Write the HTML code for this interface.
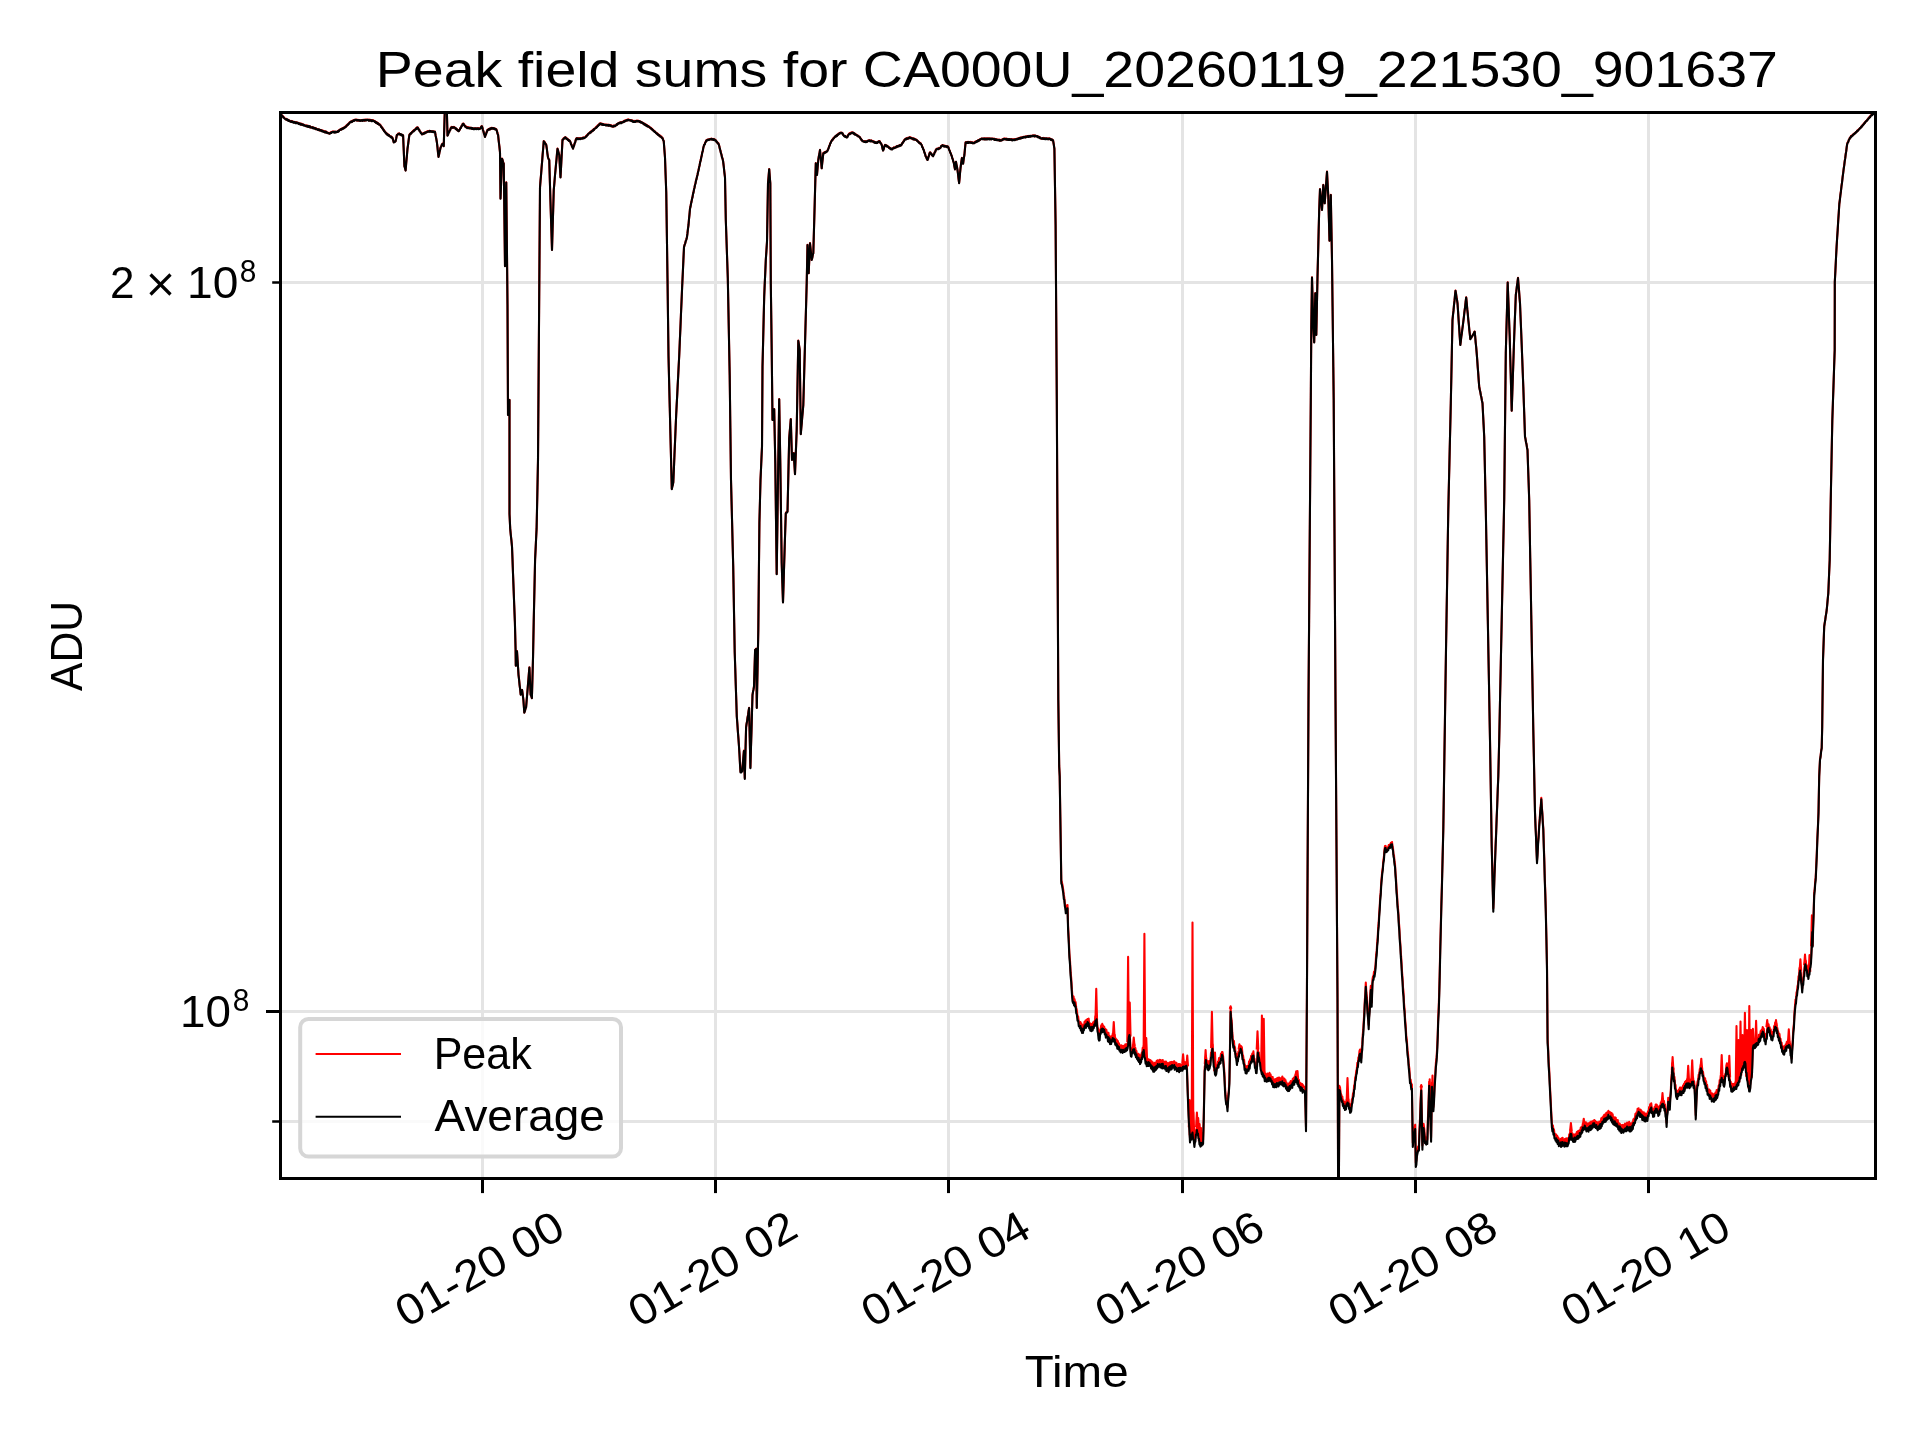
<!DOCTYPE html>
<html><head><meta charset="utf-8">
<style>
html,body{margin:0;padding:0;background:#fff;}
svg{display:block;will-change:transform;}
text{font-family:"Liberation Sans",sans-serif;fill:#000;}
</style></head>
<body>
<svg width="1920" height="1440" viewBox="0 0 1920 1440">
<rect x="0" y="0" width="1920" height="1440" fill="#fff"/>
<g stroke="#e4e4e4" stroke-width="3" fill="none"><line x1="482.5" y1="112.5" x2="482.5" y2="1178.5"/><line x1="715.5" y1="112.5" x2="715.5" y2="1178.5"/><line x1="948.5" y1="112.5" x2="948.5" y2="1178.5"/><line x1="1182.5" y1="112.5" x2="1182.5" y2="1178.5"/><line x1="1415.5" y1="112.5" x2="1415.5" y2="1178.5"/><line x1="1648.5" y1="112.5" x2="1648.5" y2="1178.5"/><line x1="280.5" y1="282.5" x2="1875.5" y2="282.5"/><line x1="280.5" y1="1011.5" x2="1875.5" y2="1011.5"/><line x1="280.5" y1="1121.5" x2="1875.5" y2="1121.5"/></g>
<svg x="280.5" y="112.5" width="1595" height="1066" viewBox="280.5 112.5 1595 1066" overflow="hidden">
<g fill="none" stroke-linejoin="round" stroke-linecap="butt" stroke-width="2.08">
<path stroke="#ff0000" d="M280.6 114.2 L281.15 115.05 L281.7 114.94 L282.25 116.3 L282.8 116.06 L283.35 117.25 L283.9 117.11 L284.45 118.22 L285 118.55 L285.5 119.13 L286 118.68 L286.5 119.73 L287 119.37 L287.5 120.06 L288 119.87 L288.5 120.73 L289 120.16 L289.5 120.96 L290 121.05 L290.5 121.67 L291 120.81 L291.5 121.8 L292 121.18 L292.5 121.87 L293 121.63 L293.5 122.25 L294 121.87 L294.5 122.38 L295 122.05 L295.5 122.57 L296 122.22 L296.5 122.96 L297 122.33 L297.5 122.9 L298 122.73 L298.5 123.61 L299 123.08 L299.5 123.95 L300 123.42 L300.5 124.15 L301 123.57 L301.5 124.73 L302 123.96 L302.5 124.96 L303 124.47 L303.5 125.13 L304 124.82 L304.5 125.41 L305 125.4 L305.52 125.96 L306.04 125.38 L306.56 126.26 L307.08 125.66 L307.6 126.57 L308.12 125.78 L308.65 126.51 L309.17 126.28 L309.69 127.11 L310.21 126.46 L310.73 127.41 L311.25 127.05 L311.77 127.52 L312.29 127.23 L312.81 127.96 L313.33 127.34 L313.85 128.19 L314.38 127.94 L314.9 128.57 L315.42 128 L315.94 129.08 L316.46 128.65 L316.98 129.26 L317.5 129.2 L318 129.55 L318.5 129.36 L319 130.13 L319.5 129.66 L320 130.38 L320.5 129.9 L321 130.59 L321.5 130.13 L322 130.9 L322.5 130.5 L323 131.23 L323.5 130.91 L324 131.6 L324.5 131.3 L325 132.2 L325.5 131.45 L326 132.3 L326.5 131.76 L327 132.61 L327.5 132.55 L328.13 133.17 L328.77 132.77 L329.4 133.55 L329.92 132.87 L330.43 133.12 L330.95 132.13 L331.47 132.54 L331.98 131.77 L332.5 131.7 L333.05 131.32 L333.6 132.05 L334.15 131.58 L334.7 132.05 L335.25 131.74 L335.8 132.32 L336.35 131.77 L336.9 132.05 L337.42 131.31 L337.93 131.58 L338.45 130.62 L338.97 131.04 L339.48 129.86 L340 129.8 L340.5 129.2 L341 129.75 L341.5 128.84 L342 129 L342.5 128.08 L343 128.74 L343.5 127.81 L344 128.02 L344.5 127.14 L345 127.3 L345.5 126.32 L346 126.52 L346.5 125.32 L347 125.76 L347.5 124.44 L348 124.6 L348.5 123.61 L349 123.46 L349.5 122.31 L350 122.3 L350.5 121.82 L351 122.2 L351.5 121.31 L352 121.74 L352.5 120.69 L353 121.05 L353.5 120.34 L354 120.7 L354.5 119.88 L355 119.8 L355.52 119.62 L356.04 120.25 L356.56 119.5 L357.08 120.37 L357.6 119.8 L358.12 120.57 L358.65 119.93 L359.17 120.36 L359.69 120.01 L360.21 120.61 L360.73 120.18 L361.25 120.4 L361.77 120.14 L362.29 120.58 L362.81 119.9 L363.33 120.4 L363.85 119.87 L364.38 120.56 L364.9 119.56 L365.42 120.38 L365.94 119.56 L366.46 120.25 L366.98 119.65 L367.5 119.8 L368.02 119.72 L368.54 120.12 L369.06 119.58 L369.58 120.53 L370.1 119.73 L370.62 120.46 L371.15 120.01 L371.67 120.79 L372.19 120.14 L372.71 120.89 L373.23 120.22 L373.75 120.8 L374.27 120.96 L374.79 121.81 L375.31 121.39 L375.83 122.6 L376.35 122.06 L376.88 123.2 L377.4 122.71 L377.92 123.94 L378.44 123.53 L378.96 124.52 L379.48 124 L380 124.8 L380.52 125.07 L381.04 126.55 L381.56 126.56 L382.08 128.17 L382.6 128.1 L383.12 129.54 L383.65 129.62 L384.17 130.99 L384.69 131 L385.21 132.27 L385.73 132.45 L386.25 133.55 L386.79 133.41 L387.32 134.72 L387.86 134.22 L388.39 135.26 L388.93 134.93 L389.46 136.05 L390 136.05 L390.5 136.72 L391 136.35 L391.5 137.34 L392 137.12 L392.5 137.9 L393.12 139.94 L393.75 142.3 L394.37 141.52 L394.98 141.79 L395.6 141.05 L396.25 138.16 L396.9 134.8 L397.52 134.78 L398.13 133.64 L398.75 133.55 L399.29 133.42 L399.84 134.48 L400.38 134 L400.93 134.63 L401.47 134.45 L402.01 135.32 L402.56 134.95 L403.1 135.4 L403.75 150.52 L404.4 166.05 L405 167.76 L405.6 170.4 L406.23 162.74 L406.87 156.14 L407.5 148.55 L408.13 144.43 L408.77 139.12 L409.4 134.8 L409.92 133.9 L410.43 133.99 L410.95 132.95 L411.47 133.17 L411.98 131.75 L412.5 131.7 L413 130.8 L413.5 131.1 L414 130.03 L414.5 130.2 L415 129.3 L415.5 129.38 L416 128.18 L416.5 128.63 L417 127.34 L417.5 127.3 L418.05 127.68 L418.6 129.27 L419.15 129.68 L419.7 131.06 L420.25 131.37 L420.8 132.7 L421.35 133.04 L421.9 134.2 L422.43 133.59 L422.95 134.04 L423.48 133.21 L424.01 133.67 L424.53 132.49 L425.06 133.05 L425.59 132.33 L426.12 132.42 L426.64 131.56 L427.17 131.94 L427.7 131.14 L428.22 131.64 L428.75 131.05 L429.27 131.36 L429.79 130.73 L430.31 131.37 L430.83 131.07 L431.35 131.63 L431.88 131.22 L432.4 131.87 L432.92 131.25 L433.44 131.74 L433.96 131.43 L434.48 132.02 L435 131.7 L435.63 135.54 L436.27 138.4 L436.9 142.3 L437.43 146.72 L437.97 152.33 L438.5 156.7 L439.02 154.84 L439.55 151.61 L440.08 149.87 L440.6 147.3 L441.23 146.37 L441.87 144.59 L442.5 143.55 L443.12 144.65 L443.75 146.05 L444.25 128.86 L444.75 112.3 L445.29 111.9 L445.82 112.51 L446.36 112.05 L446.9 112.3 L447.5 135.4 L448.04 134.51 L448.57 132.69 L449.11 132.26 L449.64 130.41 L450.18 130.03 L450.71 128.17 L451.25 127.3 L451.77 126.87 L452.3 127.77 L452.82 127.12 L453.35 127.78 L453.88 126.9 L454.4 127.3 L454.94 127.57 L455.49 128.55 L456.03 128.34 L456.57 129.64 L457.12 129.36 L457.66 130.46 L458.21 130.12 L458.75 131.05 L459.29 129.68 L459.84 129.66 L460.38 127.93 L460.93 127.68 L461.47 126.14 L462.01 125.83 L462.56 124.05 L463.1 123.55 L463.62 123.8 L464.15 125.2 L464.68 125.2 L465.2 126.51 L465.73 126.18 L466.25 127.3 L466.75 126.89 L467.25 127.8 L467.75 127.12 L468.25 127.9 L468.75 127.25 L469.25 128.25 L469.75 127.61 L470.25 128.15 L470.75 127.75 L471.25 128.48 L471.75 127.8 L472.25 128.62 L472.75 128.22 L473.25 128.9 L473.75 128.55 L474.27 128.72 L474.79 128.12 L475.31 128.76 L475.83 128.28 L476.35 128.98 L476.88 128.35 L477.4 128.75 L477.92 128.22 L478.44 128.95 L478.96 128.11 L479.48 128.94 L480 128.55 L480.63 128.2 L481.27 126.56 L481.9 126.05 L482.42 127.34 L482.93 129.78 L483.45 131.15 L483.97 133.48 L484.48 134.67 L485 136.7 L485.5 134.91 L486 134.31 L486.5 132.23 L487 131.63 L487.5 129.8 L488 129.96 L488.5 129.16 L489 129.51 L489.5 128.59 L490 129.32 L490.5 128.44 L491 128.92 L491.5 127.79 L492 128.42 L492.5 127.9 L493.04 128.44 L493.57 128.05 L494.11 128.79 L494.64 128.32 L495.18 129.19 L495.71 128.85 L496.25 129.2 L496.87 130.58 L497.48 133.26 L498.1 134.8 L498.73 140.92 L499.37 146.04 L500 152.3 L500.5 198.55 L501 185.56 L501.5 171.56 L502 158.55 L502.58 159.82 L503.17 162.06 L503.75 163.55 L504.38 215.14 L505 266.05 L505.62 224.47 L506.25 182.3 L506.88 244.03 L507.5 304.8 L508 414.8 L508.5 409.33 L509 405.04 L509.5 399.8 L509.5 513.8 L510.2 528.4 L510.8 534.72 L511.4 540.21 L512 546.4 L512.5 559.36 L513 573.37 L513.5 586.2 L514.2 604.72 L514.9 622.3 L515.6 649.3 L515.8 665.6 L516.4 658.67 L517 651.1 L517.5 659.19 L518 666.55 L518.5 674.6 L519.05 679.21 L519.6 685.02 L520.15 689.33 L520.7 694.5 L521.4 691.78 L522.1 689.9 L522.75 694.69 L523.4 699.8 L524.3 712.5 L524.9 710.95 L525.5 708.64 L526.1 707.1 L526.7 699.48 L527.3 692.9 L527.9 685.4 L528.4 679.67 L528.9 673.03 L529.4 667.4 L530 680.76 L530.6 694.5 L531.25 695.89 L531.9 698.1 L532.45 678.06 L533 658.4 L533.7 622.3 L534.4 591.03 L535.1 559.1 L535.6 549.1 L536.1 538.41 L536.6 528.4 L537.3 495.8 L538 459.8 L538.5 391.34 L539 323.85 L539.5 255.14 L540 187.3 L540.54 180.4 L541.07 174.42 L541.61 167.27 L542.14 161.09 L542.68 153.89 L543.21 148.03 L543.75 141.05 L544.25 142.14 L544.75 142.1 L545.25 143.66 L545.75 143.6 L546.25 144.8 L546.83 148.74 L547.42 153.54 L548 157.3 L548.62 158.98 L549.25 159.8 L549.88 181.52 L550.5 202.3 L551 218.39 L551.5 233.71 L552 249.8 L552.58 229.33 L553.17 210.03 L553.75 189.8 L554.33 183.63 L554.92 176.01 L555.5 169.8 L556 164.29 L556.5 159.41 L557 153.46 L557.5 148.55 L558.08 150.39 L558.67 152.9 L559.25 154.8 L559.88 166.49 L560.5 177.3 L561 168.22 L561.5 158.12 L562 149.37 L562.5 139.8 L563 139.59 L563.5 138.41 L564 138.46 L564.5 137.58 L565 137.3 L565.5 137.29 L566 138.52 L566.5 137.94 L567 138.99 L567.5 138.85 L568 139.97 L568.5 139.6 L569 140.69 L569.5 140.46 L570 141.05 L570.5 142.13 L571 143.74 L571.5 144.64 L572 146.39 L572.5 146.97 L573 148.55 L573.54 146.53 L574.08 145.42 L574.62 143.34 L575.17 142.1 L575.71 139.77 L576.25 138.55 L576.75 138.05 L577.25 139.02 L577.75 138.37 L578.25 138.72 L578.75 138.07 L579.25 138.86 L579.75 138.13 L580.25 138.81 L580.75 138.24 L581.25 138.55 L581.79 138.04 L582.32 138.49 L582.86 137.65 L583.39 137.99 L583.93 137.26 L584.46 137.92 L585 137.3 L585.54 136.98 L586.07 135.92 L586.61 136.1 L587.14 134.87 L587.68 134.84 L588.21 133.88 L588.75 133.55 L589.27 132.8 L589.79 132.87 L590.31 131.84 L590.83 132.31 L591.35 131.07 L591.88 131.5 L592.4 130.26 L592.92 130.51 L593.44 129.44 L593.96 129.71 L594.48 128.47 L595 128.55 L595.5 127.62 L596 127.79 L596.5 126.58 L597 126.96 L597.5 125.63 L598 125.99 L598.5 124.76 L599 125.01 L599.5 123.59 L600 123.55 L600.5 123.28 L601 124.22 L601.5 123.51 L602 124.34 L602.5 123.77 L603 124.47 L603.5 124.16 L604 124.86 L604.5 124.52 L605 124.8 L605.5 124.58 L606 125.27 L606.5 124.58 L607 125.23 L607.5 124.57 L608 125.48 L608.5 124.88 L609 125.58 L609.5 124.9 L610 125.3 L610.5 125.16 L611 125.99 L611.5 125.4 L612 126.47 L612.5 126.3 L613.02 126.55 L613.53 125.58 L614.05 126.34 L614.57 125.54 L615.08 125.92 L615.6 125.4 L616.12 125.39 L616.65 124.33 L617.17 124.44 L617.7 123.57 L618.23 123.54 L618.75 122.9 L619.29 123.1 L619.82 122.54 L620.36 122.88 L620.89 122.09 L621.43 122.81 L621.96 122.06 L622.5 122.3 L623.04 121.49 L623.57 122.01 L624.11 120.84 L624.64 121.39 L625.18 120.26 L625.71 120.55 L626.25 120.05 L626.77 120.37 L627.3 119.55 L627.83 120.09 L628.35 119.41 L628.88 120.05 L629.4 119.8 L629.94 120.32 L630.49 119.99 L631.03 120.72 L631.58 120.24 L632.12 120.97 L632.66 120.52 L633.21 121.5 L633.75 121.4 L634.25 121.67 L634.75 120.92 L635.25 121.5 L635.75 120.91 L636.25 121.48 L636.75 120.69 L637.25 121.23 L637.75 120.52 L638.25 121.11 L638.75 120.8 L639.29 121.25 L639.82 121.16 L640.36 121.86 L640.89 121.8 L641.43 122.71 L641.96 122.31 L642.5 122.9 L643 122.73 L643.5 123.9 L644 123.61 L644.5 124.57 L645 123.89 L645.5 124.84 L646 124.49 L646.5 125.55 L647 125.22 L647.5 126.32 L648 125.89 L648.5 126.75 L649 126.24 L649.5 127.41 L650 127.3 L650.52 128.08 L651.04 127.74 L651.56 129.14 L652.08 128.81 L652.6 129.82 L653.12 129.73 L653.65 130.88 L654.17 130.81 L654.69 131.67 L655.21 131.63 L655.73 132.63 L656.25 132.9 L656.77 133.62 L657.29 133.35 L657.81 134.46 L658.33 134.32 L658.85 135.34 L659.38 135.1 L659.9 136.24 L660.42 135.9 L660.94 137.15 L661.46 136.58 L661.98 137.89 L662.5 137.9 L663.12 139.71 L663.75 141.05 L664.38 149.36 L665 157.3 L665.62 175.26 L666.25 192.3 L666.88 235.62 L667.5 278.1 L668 317.32 L668.5 355.8 L669.13 382.01 L669.77 407.42 L670.4 433.6 L671.1 460.91 L671.8 489 L672.3 486.39 L672.8 484.82 L673.3 482.2 L673.88 468.97 L674.46 454.59 L675.04 441.62 L675.62 427.56 L676.2 414.2 L676.7 403.97 L677.2 395.2 L677.7 384.54 L678.2 375.43 L678.7 365.36 L679.2 355.8 L679.78 341.96 L680.36 328.9 L680.94 314.63 L681.52 301.59 L682.1 287.8 L682.73 274.54 L683.37 260.42 L684 247 L684.58 244.88 L685.16 243.51 L685.74 240.84 L686.32 239.61 L686.9 237.3 L687.43 233.41 L687.97 228.65 L688.5 224.8 L689 219.16 L689.5 214.24 L690 208.55 L690.5 206.59 L691 203.36 L691.5 201.6 L692 198.86 L692.5 197.11 L693 193.93 L693.5 192.34 L694 189.33 L694.5 187.47 L695 184.8 L695.5 183.04 L696 180.37 L696.5 179.08 L697 176.42 L697.5 174.8 L698.04 171.8 L698.57 170.06 L699.11 166.96 L699.64 165.21 L700.18 161.83 L700.71 160.1 L701.25 157.3 L701.75 155.33 L702.25 152.62 L702.75 151.01 L703.25 148.12 L703.75 146.05 L704.25 144.74 L704.75 144.14 L705.25 142.34 L705.75 141.92 L706.25 140.4 L706.79 140.45 L707.34 139.58 L707.88 139.98 L708.42 139.38 L708.97 139.78 L709.51 139.02 L710.06 139.26 L710.6 138.8 L711.15 139.3 L711.7 138.59 L712.25 139.33 L712.8 138.97 L713.35 139.54 L713.9 138.96 L714.45 139.73 L715 139.55 L715.54 140.41 L716.07 140.48 L716.61 141.89 L717.14 141.74 L717.68 143.35 L718.21 143.07 L718.75 144.2 L719.29 146 L719.84 148.84 L720.38 150.26 L720.92 152.89 L721.47 154.44 L722.01 157.31 L722.56 158.48 L723.1 161.05 L723.73 166.23 L724.37 172.16 L725 177.3 L725.8 219.8 L726.3 234.1 L726.8 249.23 L727.3 263.24 L727.8 278.1 L728.43 310.21 L729.07 343.12 L729.7 375.3 L730.35 427.9 L731 479.8 L731.55 501.73 L732.1 522.46 L732.65 544.74 L733.2 565.8 L733.7 594.81 L734.2 622.92 L734.7 651.8 L735.23 667.53 L735.75 684.56 L736.27 700 L736.8 716.4 L737.35 723.66 L737.9 731.81 L738.45 738.28 L739 746.28 L739.5 754.1 L740 764.07 L740.5 771.58 L741.07 771.97 L741.63 770 L742.2 770.5 L742.77 763.51 L743.33 757.78 L743.9 750.49 L744.8 777.96 L745.45 751.79 L746.1 727.1 L746.6 723.64 L747.1 720.9 L747.6 716.94 L748.1 714.79 L748.6 710.81 L749.1 707.8 L749.75 737.01 L750.4 767.36 L750.92 748.88 L751.45 731.67 L751.98 712.5 L752.5 694.8 L753 691.73 L753.5 689.36 L754 686.3 L754.55 668.42 L755.1 649.7 L755.65 649.48 L756.2 648.6 L756.8 707.8 L757.3 681.55 L757.8 656.42 L758.3 630.3 L758.85 576.82 L759.4 522.8 L759.95 501.79 L760.5 479.8 L761 469.09 L761.5 457.28 L762 446.5 L762.5 366.5 L763.07 343.5 L763.63 319.43 L764.2 296.5 L764.73 283.87 L765.27 272.5 L765.8 259.8 L766.4 250.94 L767 241.5 L767.5 212.74 L768 183.1 L768.6 176.43 L769.2 169 L769.75 176.5 L770.3 183.1 L770.8 283.1 L771.7 349.8 L772.5 419.8 L773.07 415.77 L773.63 413.04 L774.2 409 L774.75 436.51 L775.3 463.1 L776 519.04 L776.7 574 L777.35 527.27 L778 479.8 L778.6 439.73 L779.2 399 L779.75 431.45 L780.3 463.1 L781 513.53 L781.7 563.1 L782.35 583 L783 602.3 L783.57 584 L784.13 564.9 L784.7 546.5 L785.25 529.39 L785.8 513.1 L786.37 512.07 L786.93 512.31 L787.5 511.5 L788.07 487.24 L788.63 462.35 L789.2 438.1 L789.73 431.43 L790.27 425.62 L790.8 419 L791.4 439.89 L792 459.8 L792.57 457.74 L793.13 455.08 L793.7 453.1 L794.35 463.36 L795 474 L795.57 458.89 L796.13 444.95 L796.7 429.8 L797.23 400.28 L797.77 370.16 L798.3 340.6 L799 344.89 L799.7 349.8 L800.25 391.55 L800.8 434 L801.3 427.69 L801.8 422.48 L802.3 416.29 L802.8 410.85 L803.3 404.8 L803.87 384.74 L804.43 364 L805 344.35 L805.57 323.31 L806.13 303.61 L806.7 283.1 L807.5 244.8 L808.1 258.74 L808.7 273.1 L809.35 257.85 L810 243.1 L810.57 248.46 L811.13 254.65 L811.7 259.8 L812.23 257.83 L812.77 254.99 L813.3 253.1 L814.2 221.5 L814.73 202.47 L815.27 182.25 L815.8 163.1 L816.4 168.71 L817 174.8 L817.65 166.84 L818.3 159.8 L818.87 156 L819.43 153.4 L820 149.8 L820.57 156.24 L821.13 161.52 L821.7 168.1 L822.23 162.78 L822.77 158.33 L823.3 153.1 L823.87 153 L824.43 152.09 L825 152.73 L825.57 151.75 L826.13 152.1 L826.7 151.5 L827.4 150.68 L828.1 149.2 L828.62 148.09 L829.15 145.99 L829.67 145.51 L830.2 143.53 L830.73 142.56 L831.25 141.05 L831.79 140.74 L832.32 139.53 L832.86 139.61 L833.39 138.16 L833.93 138.3 L834.46 137.12 L835 136.7 L835.5 136.12 L836 136.2 L836.5 135.32 L837 135.63 L837.5 134.47 L838 134.79 L838.5 133.54 L839 133.9 L839.5 132.94 L840 132.9 L840.5 132.67 L841 133.27 L841.5 132.67 L842 132.8 L842.58 133.23 L843.17 134.98 L843.75 135.4 L844.27 136.15 L844.8 135.85 L845.33 136.59 L845.85 136.27 L846.38 137.17 L846.9 137.3 L847.52 136.58 L848.13 134.92 L848.75 134.2 L849.29 133.44 L849.82 134.01 L850.36 132.94 L850.89 133.37 L851.43 132.42 L851.96 132.87 L852.5 132.3 L853.04 133.13 L853.57 132.83 L854.11 133.81 L854.64 133.51 L855.18 134.43 L855.71 134.11 L856.25 134.8 L856.77 134.91 L857.3 135.87 L857.83 135.49 L858.35 136.33 L858.88 136.21 L859.4 136.7 L859.92 137.17 L860.43 138.46 L860.95 138.47 L861.47 139.88 L861.98 139.93 L862.5 141.05 L863.04 140.96 L863.57 141.52 L864.11 141.02 L864.64 141.91 L865.18 141.07 L865.71 141.99 L866.25 141.7 L866.75 141.59 L867.25 140.9 L867.75 141.32 L868.25 140.43 L868.75 140.4 L869.29 140.15 L869.82 140.9 L870.36 140.52 L870.89 141.27 L871.43 140.43 L871.96 141.18 L872.5 141.05 L873.04 141.68 L873.57 141.33 L874.11 142.12 L874.64 141.77 L875.18 142.63 L875.71 142.37 L876.25 142.9 L876.77 142.3 L877.3 142.67 L877.83 141.74 L878.35 141.89 L878.88 140.95 L879.4 141.05 L879.92 141.57 L880.45 143.11 L880.98 143.07 L881.5 144.2 L882.03 145.86 L882.57 148.6 L883.1 150.4 L883.73 148.97 L884.37 146.48 L885 144.8 L885.52 144.92 L886.03 145.62 L886.55 145.36 L887.07 146.46 L887.58 146.17 L888.1 146.7 L888.62 146.83 L889.15 147.98 L889.67 147.59 L890.2 148.55 L890.73 148.55 L891.25 149.2 L891.79 148.72 L892.32 148.85 L892.86 148.09 L893.39 148.29 L893.93 147.37 L894.46 147.87 L895 147.3 L895.52 147.42 L896.04 146.51 L896.56 147.09 L897.08 146.03 L897.6 146.54 L898.12 145.78 L898.65 146.14 L899.17 145.48 L899.69 145.72 L900.21 144.82 L900.73 145.5 L901.25 144.8 L901.79 144.43 L902.32 142.82 L902.86 142.76 L903.39 141.44 L903.93 141.07 L904.46 139.73 L905 139.2 L905.5 138.66 L906 139.06 L906.5 138.42 L907 138.87 L907.5 137.95 L908 138.65 L908.5 137.68 L909 138.09 L909.5 137.3 L910 137.55 L910.52 137.27 L911.04 138.27 L911.56 137.84 L912.08 138.63 L912.6 138.29 L913.12 139.07 L913.65 138.37 L914.17 139.38 L914.69 138.84 L915.21 139.87 L915.73 139.39 L916.25 139.8 L916.75 139.76 L917.25 141.05 L917.75 140.9 L918.25 141.74 L918.75 141.76 L919.25 142.79 L919.75 142.49 L920.25 143.59 L920.75 143.28 L921.25 144.2 L921.75 145.04 L922.25 146.75 L922.75 147.37 L923.25 149.17 L923.75 149.8 L924.37 152.08 L924.98 153.5 L925.6 156.05 L926.23 156.96 L926.87 158.9 L927.5 159.8 L928 158.65 L928.5 156.56 L929 155.77 L929.5 153.3 L930 152.3 L930.52 152.49 L931.03 153.91 L931.55 153.98 L932.07 155.24 L932.58 155.17 L933.1 156.05 L933.62 154.44 L934.15 154 L934.67 152.27 L935.2 151.92 L935.73 150.13 L936.25 149.2 L936.79 148.67 L937.32 149.01 L937.86 148.48 L938.39 148.67 L938.93 147.78 L939.46 148.56 L940 147.9 L940.63 147.45 L941.27 145.98 L941.9 145.4 L942.42 145.12 L942.93 146.02 L943.45 145.44 L943.97 146.19 L944.48 145.51 L945 146.21 L945.52 145.94 L946.03 146.58 L946.55 146.17 L947.07 146.77 L947.58 146.24 L948.1 146.7 L948.62 147.84 L949.15 149.73 L949.67 150.51 L950.2 152.45 L950.73 153.18 L951.25 154.8 L951.75 155.93 L952.25 157.96 L952.75 158.92 L953.25 161 L953.75 162.3 L954.38 166.24 L955 169.2 L955.5 165.81 L956 161.7 L956.5 164.71 L957 166.81 L957.5 169.8 L958.03 173.8 L958.57 178.92 L959.1 182.9 L959.6 178.12 L960.1 172.09 L960.6 167.3 L961.25 162.28 L961.9 157.9 L962.5 160.23 L963.1 163.55 L963.75 158.73 L964.4 154.8 L965 148.1 L965.6 142.3 L966.15 142.01 L966.7 142.6 L967.25 141.95 L967.8 142.77 L968.35 141.97 L968.9 142.63 L969.45 142 L970 142.3 L970.54 141.92 L971.07 142.73 L971.61 142.39 L972.14 143.05 L972.68 142.26 L973.21 143.22 L973.75 142.9 L974.25 142.99 L974.75 141.94 L975.25 142.34 L975.75 141.45 L976.25 141.71 L976.75 141.07 L977.25 141.29 L977.75 140.39 L978.25 140.73 L978.75 140 L979.25 140.29 L979.75 139.29 L980.25 139.58 L980.75 138.82 L981.25 138.8 L981.76 138.51 L982.27 139.03 L982.78 138.63 L983.3 139.27 L983.81 138.31 L984.32 139.18 L984.83 138.35 L985.34 139.1 L985.85 138.37 L986.36 139.03 L986.88 138.39 L987.39 139.15 L987.9 138.33 L988.41 138.98 L988.92 138.37 L989.43 138.99 L989.94 138.46 L990.45 139.28 L990.97 138.65 L991.48 139.04 L991.99 138.55 L992.5 138.8 L993.01 138.63 L993.53 139.16 L994.04 138.62 L994.56 139.61 L995.07 138.98 L995.59 139.64 L996.1 139.1 L996.62 139.72 L997.13 139.49 L997.65 140.21 L998.16 139.58 L998.68 140.25 L999.19 139.55 L999.71 140.61 L1000.22 139.9 L1000.74 140.53 L1001.25 140.4 L1001.75 140.33 L1002.25 139.29 L1002.75 139.9 L1003.25 138.9 L1003.75 138.8 L1004.25 138.41 L1004.75 139.17 L1005.25 138.63 L1005.75 139.21 L1006.25 138.59 L1006.75 139.6 L1007.25 138.93 L1007.75 139.57 L1008.25 139.03 L1008.75 139.76 L1009.25 139.18 L1009.75 139.59 L1010.25 139.05 L1010.75 139.76 L1011.25 139.08 L1011.75 140.05 L1012.25 139.25 L1012.75 139.9 L1013.25 139.36 L1013.75 139.8 L1014.25 139.18 L1014.75 139.83 L1015.25 139.21 L1015.75 139.48 L1016.25 138.85 L1016.75 139.37 L1017.25 138.62 L1017.75 138.91 L1018.25 138.33 L1018.75 138.81 L1019.25 137.86 L1019.75 138.43 L1020.25 137.63 L1020.75 138.33 L1021.25 137.38 L1021.75 137.83 L1022.25 137.21 L1022.75 137.8 L1023.25 136.8 L1023.75 137.05 L1024.25 136.72 L1024.75 137.26 L1025.25 136.62 L1025.75 137.21 L1026.25 136.33 L1026.75 136.88 L1027.25 136.13 L1027.75 136.55 L1028.25 135.94 L1028.75 136.47 L1029.25 135.9 L1029.75 136.48 L1030.25 135.79 L1030.75 136.13 L1031.25 135.8 L1031.75 136.21 L1032.25 135.56 L1032.75 136.05 L1033.25 135.46 L1033.75 136.02 L1034.25 135.34 L1034.75 136.3 L1035.25 135.64 L1035.75 136.11 L1036.25 135.8 L1036.75 136.46 L1037.25 136.02 L1037.75 137.03 L1038.25 136.48 L1038.75 137.26 L1039.25 136.96 L1039.75 137.93 L1040.25 137.52 L1040.75 138.43 L1041.25 138.3 L1041.76 138.75 L1042.28 138.03 L1042.79 138.72 L1043.31 137.97 L1043.82 138.84 L1044.34 138.14 L1044.85 138.99 L1045.37 138.32 L1045.88 138.99 L1046.4 138.39 L1046.91 138.99 L1047.43 138.42 L1047.94 138.99 L1048.46 138.29 L1048.97 139.17 L1049.49 138.34 L1050 138.8 L1050.52 138.83 L1051.03 139.65 L1051.55 139.37 L1052.07 140.22 L1052.58 139.81 L1053.1 140.4 L1053.75 144.31 L1054.4 148.55 L1055 186.32 L1055.6 224.8 L1056.2 311.9 L1056.8 399.8 L1057.3 499.45 L1057.8 599.8 L1058.3 699.8 L1059.2 765.89 L1059.7 775.7 L1060.3 814.95 L1060.8 846.27 L1061.3 880.37 L1061.9 882.07 L1062.5 885.29 L1063.3 890.2 L1063.8 894.89 L1064.3 897.48 L1064.8 903.24 L1065.3 904.76 L1065.8 909.86 L1066.37 907.03 L1066.93 907.53 L1067.5 904.95 L1068.1 926.29 L1068.75 937.94 L1069.4 953.34 L1070.02 960.84 L1070.63 972.22 L1071.25 978.3 L1071.88 989.43 L1072.5 997.05 L1073.02 999.64 L1073.53 996.5 L1074.05 1000.76 L1074.57 999.34 L1075.08 1002.56 L1075.6 1002.05 L1076.23 1007.69 L1076.87 1010.26 L1077.5 1016.4 L1078.13 1016.37 L1078.77 1021.9 L1079.4 1022.05 L1079.92 1024.25 L1080.43 1022.08 L1080.95 1025.82 L1081.47 1023.54 L1081.98 1027.85 L1082.5 1027.7 L1083 1028.06 L1083.5 1024.87 L1084 1027.1 L1084.5 1021.89 L1085 1023.3 L1085.52 1020.46 L1086.03 1022.94 L1086.55 1019.9 L1087.07 1022.24 L1087.58 1019 L1088.1 1019.55 L1088.65 1018.72 L1089.2 1023.83 L1089.75 1023.02 L1090.3 1026.4 L1090.88 1023.82 L1091.45 1028.14 L1092.03 1024.11 L1092.6 1026.34 L1093.17 1022.18 L1093.75 1023.9 L1094.32 1021.31 L1094.89 1021.64 L1095.46 1016.28 L1096.03 1017.98 L1096.6 1015.2 L1097.5 1027.05 L1098.03 1028.67 L1098.57 1034.61 L1099.1 1036.4 L1099.64 1035.15 L1100.17 1029.88 L1100.71 1028.84 L1101.25 1025.2 L1101.75 1028.16 L1102.25 1023.77 L1102.75 1028.43 L1103.25 1025.48 L1103.75 1027.05 L1104.28 1026.85 L1104.8 1030.92 L1105.33 1028.96 L1105.85 1032.84 L1106.38 1029.78 L1106.9 1033.3 L1107.43 1032.57 L1107.96 1036.12 L1108.49 1032.88 L1109.01 1038.05 L1109.54 1036.02 L1110.07 1039.1 L1110.6 1038.3 L1111.12 1039.64 L1111.65 1036.16 L1112.17 1037.83 L1112.7 1033.76 L1113.22 1037.53 L1113.75 1034.55 L1114.25 1037.77 L1114.75 1034.9 L1115.25 1040.28 L1115.75 1038.53 L1116.25 1041.4 L1116.79 1039.71 L1117.32 1044.13 L1117.86 1041.08 L1118.39 1045.09 L1118.93 1043.13 L1119.46 1046.29 L1120 1045.8 L1120.54 1047.85 L1121.07 1045.26 L1121.61 1047.76 L1122.14 1045.72 L1122.68 1048.79 L1123.21 1046.09 L1123.75 1047.7 L1124.29 1045.66 L1124.82 1049.39 L1125.36 1044.33 L1125.89 1048.25 L1126.43 1044.3 L1126.96 1046.48 L1127.5 1044.55 L1128.13 1040.88 L1128.77 1033.35 L1129.4 1030.8 L1129.9 1036.44 L1130.4 1046.25 L1130.9 1052.05 L1131.47 1051.49 L1132.04 1048.2 L1132.61 1049.2 L1133.18 1045.07 L1133.75 1045.2 L1134.29 1044.07 L1134.82 1049.95 L1135.36 1047.94 L1135.89 1051.98 L1136.43 1050.82 L1136.96 1055.7 L1137.5 1054.55 L1138.02 1056.71 L1138.53 1053.83 L1139.05 1058.82 L1139.57 1055.02 L1140.08 1058.99 L1140.6 1058.9 L1141.12 1058.08 L1141.65 1053.05 L1142.17 1053.28 L1142.7 1047.78 L1143.22 1049.36 L1143.75 1045.8 L1144.37 1052.57 L1144.98 1053.24 L1145.6 1059.55 L1146.15 1058.83 L1146.7 1061.36 L1147.25 1058.81 L1147.8 1061.03 L1148.35 1059.28 L1148.9 1062.35 L1149.45 1059.81 L1150 1060.8 L1150.54 1060.17 L1151.07 1063.78 L1151.61 1061.17 L1152.14 1064.68 L1152.68 1062.31 L1153.21 1066.34 L1153.75 1065.8 L1154.25 1067.4 L1154.75 1062.81 L1155.25 1065.35 L1155.75 1062.65 L1156.25 1064.59 L1156.75 1060.72 L1157.25 1063.82 L1157.75 1060.32 L1158.25 1063.66 L1158.75 1060.8 L1159.25 1062.12 L1159.75 1059.74 L1160.25 1062.58 L1160.75 1060.13 L1161.25 1062.28 L1161.75 1060.73 L1162.25 1063.6 L1162.75 1059.99 L1163.25 1064.18 L1163.75 1062.05 L1164.29 1065.07 L1164.84 1061.66 L1165.38 1065.46 L1165.92 1061.47 L1166.47 1065.57 L1167.01 1062.83 L1167.56 1067.32 L1168.1 1065.8 L1168.6 1067.94 L1169.1 1062.69 L1169.6 1065.88 L1170.1 1062.37 L1170.6 1064.87 L1171.1 1061.99 L1171.6 1064.67 L1172.1 1061.91 L1172.6 1063.9 L1173.1 1062.05 L1173.65 1063.82 L1174.2 1061.15 L1174.75 1064.52 L1175.3 1062.56 L1175.85 1065.53 L1176.4 1062.77 L1176.95 1065.89 L1177.5 1065.2 L1178.05 1067.27 L1178.6 1064.13 L1179.15 1066.37 L1179.7 1064.1 L1180.25 1067.12 L1180.8 1064.6 L1181.35 1067.57 L1181.9 1065.8 L1182.42 1067.23 L1182.93 1062.76 L1183.45 1065.98 L1183.97 1062.48 L1184.48 1064.17 L1185 1062.05 L1185.63 1064.54 L1186.27 1063.26 L1186.9 1065.2 L1187.8 1092.05 L1188.75 1115.8 L1189.38 1125.53 L1190 1138.3 L1190.5 1135.42 L1191 1135.98 L1191.5 1130.45 L1192 1131.93 L1192.5 1128.3 L1193.13 1134.47 L1193.77 1136.66 L1194.4 1142.7 L1194.9 1138.5 L1195.4 1137.35 L1195.9 1130.16 L1196.4 1130.99 L1196.9 1125.8 L1197.42 1129.56 L1197.93 1128.8 L1198.45 1134.42 L1198.97 1134.17 L1199.48 1140.2 L1200 1140.8 L1200.52 1143.11 L1201.03 1138.94 L1201.55 1142 L1202.07 1137.47 L1202.58 1141.94 L1203.1 1139.55 L1203.75 1115.8 L1204.7 1067.05 L1205.3 1063.35 L1205.9 1055.8 L1206.43 1060.84 L1206.97 1060.54 L1207.5 1065.2 L1208 1063.03 L1208.5 1065.22 L1209 1061.02 L1209.5 1065.06 L1210 1062.05 L1210.5 1060.03 L1211 1052.61 L1211.5 1052.4 L1212 1047.02 L1212.5 1044.55 L1213.12 1051.92 L1213.75 1062.7 L1214.37 1064.26 L1214.98 1069.94 L1215.6 1071.4 L1216.23 1071.46 L1216.87 1065.35 L1217.5 1063.9 L1218 1061.53 L1218.5 1062.62 L1219 1058.16 L1219.5 1060.15 L1220 1057.7 L1220.5 1057.35 L1221 1053.67 L1221.5 1055.81 L1222 1051.96 L1222.5 1052.05 L1223.12 1056.3 L1223.75 1063.9 L1224.37 1072.37 L1224.98 1086.54 L1225.6 1095.2 L1226.23 1101.07 L1226.87 1101.3 L1227.5 1107.05 L1228.13 1095.59 L1228.77 1091.26 L1229.4 1079.55 L1230 1045.01 L1230.6 1007.7 L1231.15 1016.91 L1231.7 1020.91 L1232.25 1032.45 L1232.8 1038.9 L1233.35 1043.02 L1233.9 1040.93 L1234.45 1047.04 L1235 1047.05 L1235.63 1054.17 L1236.27 1053.94 L1236.9 1060.8 L1237.4 1057.23 L1237.9 1057.71 L1238.4 1051.63 L1238.9 1052.61 L1239.4 1048.3 L1240.02 1049.12 L1240.63 1045.73 L1241.25 1046.4 L1241.87 1047.39 L1242.48 1054.42 L1243.1 1055.8 L1243.6 1059.63 L1244.1 1059.81 L1244.6 1065.03 L1245.1 1065.18 L1245.6 1068.9 L1246.1 1066.56 L1246.6 1068.67 L1247.1 1066.14 L1247.6 1067.32 L1248.1 1065.8 L1248.6 1065.52 L1249.1 1061.24 L1249.6 1063.04 L1250.1 1059.2 L1250.6 1059.55 L1251.16 1055.73 L1251.72 1057.94 L1252.28 1053.58 L1252.84 1055.39 L1253.4 1051.4 L1253.93 1057.93 L1254.47 1058.86 L1255 1063.9 L1255.53 1064.32 L1256.07 1068.94 L1256.6 1068.9 L1257.2 1060.83 L1257.8 1048.3 L1258.33 1052.93 L1258.87 1052.48 L1259.4 1057.7 L1260.02 1059.58 L1260.63 1066.02 L1261.25 1067.05 L1261.75 1069.67 L1262.25 1068.16 L1262.75 1072.96 L1263.25 1069.74 L1263.75 1073.3 L1264.25 1071.63 L1264.75 1076.35 L1265.25 1073.61 L1265.75 1077.85 L1266.25 1076.4 L1266.79 1078.05 L1267.32 1073.58 L1267.86 1077.85 L1268.39 1074.33 L1268.93 1076.54 L1269.46 1072.82 L1270 1074.55 L1270.54 1074.33 L1271.07 1077.62 L1271.61 1076.68 L1272.14 1080.31 L1272.68 1076.95 L1273.21 1082.97 L1273.75 1081.4 L1274.29 1082.34 L1274.82 1079.2 L1275.36 1082.69 L1275.89 1079.13 L1276.43 1082.47 L1276.96 1078.41 L1277.5 1080.8 L1278.04 1077.86 L1278.57 1080.95 L1279.11 1077.65 L1279.64 1080.37 L1280.18 1078.16 L1280.71 1079.96 L1281.25 1078.3 L1281.79 1080.77 L1282.32 1076.43 L1282.86 1080.37 L1283.39 1078.35 L1283.93 1080.91 L1284.46 1078.68 L1285 1080.8 L1285.5 1080.14 L1286 1084.26 L1286.5 1082.46 L1287 1087.04 L1287.5 1085.8 L1288.04 1087.75 L1288.57 1083.79 L1289.11 1086.22 L1289.64 1082.47 L1290.18 1086.19 L1290.71 1081.09 L1291.25 1083.3 L1291.75 1080.94 L1292.25 1083.59 L1292.75 1078.9 L1293.25 1082.04 L1293.75 1077.88 L1294.25 1079.15 L1294.75 1076.2 L1295.25 1078.78 L1295.75 1074.19 L1296.25 1074.55 L1296.78 1074.34 L1297.3 1078.47 L1297.83 1077.56 L1298.35 1081.2 L1298.88 1080.03 L1299.4 1083.3 L1299.94 1082.73 L1300.49 1086.16 L1301.03 1083.43 L1301.58 1086.37 L1302.12 1083.99 L1302.66 1087.56 L1303.21 1085.33 L1303.75 1087.05 L1304.38 1086.8 L1305 1088.3 L1305.5 1106.78 L1306 1127.05 L1306.9 995.8 L1307.43 898.87 L1307.97 797.85 L1308.5 699.8 L1309.08 624.62 L1309.65 550.01 L1310.22 474.48 L1310.8 399.8 L1311.3 326.5 L1312 277.3 L1312.65 301.4 L1313.3 326.5 L1314.2 342.3 L1314.75 317.92 L1315.3 293.1 L1315.8 314.4 L1316.3 334.8 L1316.9 305.97 L1317.5 276.5 L1318.07 254.56 L1318.63 231.6 L1319.2 209.8 L1320 189 L1320.5 194.49 L1321 199.23 L1321.5 204.94 L1322 209.8 L1322.65 197.68 L1323.3 184.8 L1324 194.32 L1324.7 203.1 L1325.28 195.45 L1325.85 186.82 L1326.42 179.85 L1327 171.5 L1327.65 184.5 L1328.3 196.5 L1328.9 218.86 L1329.5 240.6 L1330.15 218.14 L1330.8 194.8 L1331.4 227.7 L1332 259.8 L1332.57 306.68 L1333.13 352.97 L1333.7 399.8 L1334.3 499.59 L1334.9 599.99 L1335.5 699.8 L1336 774.16 L1336.5 846.95 L1337 923.5 L1337.5 995.8 L1338.1 1180.8 L1338.9 1180.8 L1339.4 1085.8 L1340.02 1087.37 L1340.63 1093.35 L1341.25 1094.55 L1341.79 1096.96 L1342.32 1096.6 L1342.86 1101.9 L1343.39 1100.18 L1343.93 1104.33 L1344.46 1101.94 L1345 1105.8 L1345.5 1102.08 L1346 1104.92 L1346.5 1099.79 L1347 1102.04 L1347.5 1098.3 L1348.02 1102.25 L1348.53 1099.46 L1349.05 1105.87 L1349.57 1104 L1350.08 1109.14 L1350.6 1108.3 L1351.23 1106.48 L1351.87 1099.57 L1352.5 1098.3 L1353.04 1093.14 L1353.57 1092.88 L1354.11 1085.69 L1354.64 1084.42 L1355.18 1077.46 L1355.71 1076.22 L1356.25 1070.8 L1356.79 1069.22 L1357.32 1062.75 L1357.86 1063.95 L1358.39 1057.21 L1358.93 1057.56 L1359.46 1051.16 L1360 1049.55 L1360.62 1052.64 L1361.25 1058.3 L1361.75 1048.37 L1362.25 1044.67 L1362.75 1034.85 L1363.25 1029.69 L1363.75 1020.8 L1364.26 1013.35 L1364.78 1000.49 L1365.29 994.16 L1365.8 982.5 L1366.38 992.73 L1366.96 997.48 L1367.54 1009.1 L1368.12 1015.53 L1368.7 1025 L1369.22 1014.16 L1369.75 1006.82 L1370.28 994.05 L1370.8 985.8 L1371.7 1002.5 L1372.5 979.1 L1373 976.35 L1373.5 976.68 L1374 971.7 L1374.5 972.36 L1375 969.1 L1375.57 964.61 L1376.13 954.73 L1376.7 950.88 L1377.2 942.37 L1377.7 937.78 L1378.2 927.18 L1378.7 922.44 L1379.2 913.21 L1379.7 906.72 L1380.2 896.9 L1380.7 892.67 L1381.2 882.6 L1381.7 877.13 L1382.25 871.17 L1382.8 867.72 L1383.35 860.26 L1383.9 857.04 L1384.45 850.41 L1385 845.98 L1385.57 845.91 L1386.13 849.69 L1386.7 849.32 L1387.2 849.47 L1387.7 847.33 L1388.2 848.16 L1388.7 845.14 L1389.2 845.98 L1389.76 844.57 L1390.32 845.5 L1390.88 842.72 L1391.44 843.89 L1392 841.96 L1392.5 846.32 L1393 848.19 L1393.5 854.46 L1394 855.26 L1394.5 861.58 L1395 864.06 L1395.5 873.04 L1396 878.56 L1396.5 888.34 L1397 893.86 L1397.5 903.37 L1398.3 911.54 L1398.8 921.33 L1399.3 926.65 L1399.8 937.8 L1400.3 943.04 L1400.8 952.55 L1401.37 959.55 L1401.93 970.28 L1402.5 977.5 L1403 987.3 L1403.5 991.71 L1404 1003.22 L1404.5 1008.66 L1405 1017.5 L1405.62 1024.73 L1406.25 1035.8 L1406.87 1040.46 L1407.48 1050.16 L1408.1 1054.55 L1408.73 1064.53 L1409.37 1068.31 L1410 1078.9 L1410.63 1079.73 L1411.27 1084.3 L1411.9 1084.55 L1412.8 1142.7 L1413.4 1135.64 L1414 1135.87 L1414.6 1127.93 L1415.2 1124.8 L1415.8 1162.8 L1416.37 1160.39 L1416.93 1151.15 L1417.5 1149.2 L1418.2 1146.29 L1418.9 1146.4 L1419.49 1129.04 L1420.08 1117.41 L1420.66 1098.82 L1421.25 1086.4 L1421.83 1114.28 L1422.4 1145.5 L1423 1133.49 L1423.6 1123.9 L1424.3 1129.09 L1425 1138.9 L1425.58 1137.16 L1426.15 1141.84 L1426.72 1137.29 L1427.3 1139.8 L1427.93 1118.2 L1428.57 1102.78 L1429.2 1081.7 L1429.83 1102.89 L1430.47 1118 L1431.1 1137.5 L1432 1082.7 L1432.7 1097.24 L1433.4 1107.05 L1434.03 1097.88 L1434.67 1083.31 L1435.3 1073.3 L1435.93 1062.3 L1436.57 1057.41 L1437.2 1047.05 L1437.7 1035.17 L1438.2 1017.42 L1438.7 1007.27 L1439.2 992.5 L1439.73 971.62 L1440.27 946.68 L1440.8 926.29 L1441.37 903.75 L1441.93 883.8 L1442.5 860.72 L1443.3 828.01 L1443.3 828.01 L1443.84 793.34 L1444.38 756.15 L1444.92 721.39 L1445.46 685.01 L1446 649.8 L1446.58 614.35 L1447.15 580.22 L1447.72 544.46 L1448.3 509.8 L1448.8 487.99 L1449.3 467.55 L1449.8 445.58 L1450.3 424.72 L1450.8 403.1 L1451.37 375.52 L1451.93 347.4 L1452.5 319.8 L1453 314.66 L1453.5 310.52 L1454 304.76 L1454.5 300.52 L1455 295.25 L1455.5 290.6 L1456 293.44 L1456.5 297.3 L1457 299.61 L1457.5 303.1 L1458.06 310.97 L1458.62 319.96 L1459.18 327.62 L1459.74 336.68 L1460.3 344.8 L1460.8 341.29 L1461.3 336.58 L1461.8 333.55 L1462.3 329.05 L1462.8 325.77 L1463.3 321.5 L1463.88 316.96 L1464.46 311.66 L1465.04 307.25 L1465.62 301.88 L1466.2 297.3 L1466.72 302.55 L1467.25 308.8 L1467.78 313.81 L1468.3 319.8 L1468.8 324.21 L1469.3 329.61 L1469.8 334.01 L1470.3 339 L1470.85 337.76 L1471.4 337.61 L1471.95 336.25 L1472.5 335.6 L1473.05 334.38 L1473.6 334.03 L1474.15 332.16 L1474.7 331.5 L1475.2 336.62 L1475.7 342.52 L1476.2 347.2 L1476.7 353.1 L1477.2 359.39 L1477.7 366.87 L1478.2 372.86 L1478.7 380.08 L1479.2 386.5 L1479.75 389.56 L1480.3 391.83 L1480.85 395.17 L1481.4 397.27 L1481.95 400.77 L1482.5 403.1 L1483.07 414.53 L1483.63 425.06 L1484.2 436.5 L1484.73 460.61 L1485.27 485.85 L1485.8 509.8 L1486.33 538.81 L1486.85 566.88 L1487.38 596.25 L1487.9 624.4 L1488.42 653.74 L1488.95 681.78 L1489.47 711.26 L1490 739.71 L1490.57 775.53 L1491.13 808.53 L1491.7 844.41 L1492.23 864.68 L1492.77 888.72 L1493.3 908.29 L1493.87 893.49 L1494.43 875.15 L1495 860.72 L1495.55 845.45 L1496.1 833.26 L1496.65 817.75 L1497.2 804.77 L1497.75 789.31 L1498.3 775.7 L1499.2 739.71 L1499.7 716.09 L1500.2 691.24 L1500.7 667.99 L1501.2 643.35 L1501.7 620.14 L1502.2 595.53 L1502.7 572.07 L1503.2 547.59 L1503.7 524.25 L1504.2 499.8 L1504.73 451.14 L1505.27 401.7 L1505.8 353.1 L1506.43 329.23 L1507.07 306.34 L1507.7 282.3 L1508.2 296.3 L1508.7 309.04 L1509.2 323.29 L1509.7 336.5 L1510.2 355.21 L1510.7 373.09 L1511.2 392.26 L1511.7 410.6 L1512.2 396.06 L1512.7 380.68 L1513.2 366.54 L1513.7 350.94 L1514.2 336.5 L1514.73 322.33 L1515.27 309.16 L1515.8 294.8 L1516.35 291.03 L1516.9 286.14 L1517.45 282.42 L1518 277.8 L1518.5 284.44 L1519 290.17 L1519.5 297.09 L1520 303.1 L1520.57 317.26 L1521.13 330.52 L1521.7 344.8 L1522.23 358.34 L1522.77 373.09 L1523.3 386.5 L1523.87 403.66 L1524.43 419.34 L1525 436.5 L1525.5 438.87 L1526 442.26 L1526.5 444.1 L1527 447.54 L1527.5 449.8 L1528.07 466.97 L1528.63 482.96 L1529.2 499.8 L1529.71 528.24 L1530.22 557.59 L1530.74 585.67 L1531.25 615.03 L1531.76 643.05 L1532.28 672.52 L1532.79 700.77 L1533.3 729.8 L1533.87 756.71 L1534.43 784.97 L1535 811.62 L1535.5 825.01 L1536 835.65 L1536.5 849.08 L1537 860.72 L1537.55 852.91 L1538.1 841.64 L1538.65 834.94 L1539.2 824.77 L1539.72 818.66 L1540.25 810.16 L1540.78 805.52 L1541.3 797.78 L1541.8 806.38 L1542.3 812.4 L1542.8 821.3 L1543.3 828.01 L1543.8 844.85 L1544.3 859.29 L1544.8 878.8 L1545.3 891.77 L1545.8 909.86 L1546.4 937.15 L1547 965.8 L1547 965.8 L1547.6 1039.1 L1548.12 1048.11 L1548.65 1061.71 L1549.17 1068.62 L1549.7 1080.8 L1550.6 1098.3 L1551.25 1111.78 L1551.9 1123.3 L1552.42 1127.28 L1552.93 1125.5 L1553.45 1130.3 L1553.97 1129.36 L1554.48 1133.95 L1555 1133.9 L1555.55 1135.7 L1556.1 1134.53 L1556.65 1137.97 L1557.2 1135.73 L1557.75 1140.03 L1558.3 1137.4 L1558.85 1140.95 L1559.4 1140.2 L1559.94 1141.08 L1560.49 1139.02 L1561.03 1141.8 L1561.58 1138.4 L1562.12 1141.82 L1562.66 1137.87 L1563.21 1141.17 L1563.75 1140.2 L1564.29 1142.53 L1564.84 1139.14 L1565.38 1142.75 L1565.92 1138.46 L1566.47 1141.72 L1567.01 1138.31 L1567.56 1142.55 L1568.1 1140.2 L1568.66 1140.6 L1569.22 1134.41 L1569.78 1134.61 L1570.34 1130.62 L1570.9 1129.55 L1571.4 1130.41 L1571.9 1135.8 L1572.44 1133.61 L1572.99 1137.73 L1573.53 1134.51 L1574.08 1137.25 L1574.62 1134.59 L1575.16 1136.33 L1575.71 1133.95 L1576.25 1135.2 L1576.75 1132.1 L1577.25 1136.02 L1577.75 1131.18 L1578.25 1133.8 L1578.75 1130.84 L1579.25 1132.73 L1579.75 1129.99 L1580.25 1131.66 L1580.75 1127.66 L1581.25 1129.55 L1581.75 1126.92 L1582.25 1128.72 L1582.75 1123.83 L1583.25 1126.94 L1583.75 1123.3 L1584.29 1126.16 L1584.82 1122.2 L1585.36 1126.06 L1585.89 1122.3 L1586.43 1126.58 L1586.96 1124.12 L1587.5 1125.8 L1588.02 1123.31 L1588.54 1126.32 L1589.06 1123.25 L1589.58 1125.89 L1590.1 1122.32 L1590.62 1125.03 L1591.15 1121.67 L1591.67 1124.47 L1592.19 1121.63 L1592.71 1124.43 L1593.23 1120.87 L1593.75 1121.4 L1594.25 1119.97 L1594.75 1123.81 L1595.25 1120.84 L1595.75 1123.85 L1596.25 1122.01 L1596.75 1124.75 L1597.25 1122.25 L1597.75 1125.58 L1598.25 1123.04 L1598.75 1124.55 L1599.25 1121.66 L1599.75 1124.72 L1600.25 1121.5 L1600.75 1123.07 L1601.25 1118.26 L1601.75 1120.84 L1602.25 1117.44 L1602.75 1121.08 L1603.25 1116.35 L1603.75 1117.05 L1604.26 1114.73 L1604.78 1117.59 L1605.29 1114.36 L1605.8 1117.12 L1606.32 1112.92 L1606.83 1115.68 L1607.35 1112.18 L1607.86 1115.13 L1608.37 1110.81 L1608.89 1113.38 L1609.4 1112.05 L1609.94 1113.78 L1610.49 1112.37 L1611.03 1115.67 L1611.58 1112.95 L1612.12 1117.51 L1612.66 1114.39 L1613.21 1119.03 L1613.75 1118.3 L1614.25 1120.1 L1614.75 1117.28 L1615.25 1120.74 L1615.75 1117.73 L1616.25 1123.09 L1616.75 1119.92 L1617.25 1123.16 L1617.75 1120.03 L1618.25 1125.01 L1618.75 1123.3 L1619.29 1125.88 L1619.82 1123.67 L1620.36 1127.36 L1620.89 1124.95 L1621.43 1128.36 L1621.96 1125.29 L1622.5 1127.7 L1623.01 1124.83 L1623.52 1128.84 L1624.03 1125.68 L1624.54 1128.58 L1625.05 1123.55 L1625.55 1127.14 L1626.06 1124.11 L1626.57 1126.62 L1627.08 1122.56 L1627.59 1125.72 L1628.1 1123.3 L1628.62 1126.39 L1629.15 1121.88 L1629.67 1125.77 L1630.2 1123.16 L1630.72 1127.47 L1631.25 1126.4 L1631.78 1127.2 L1632.3 1122.23 L1632.83 1123.94 L1633.35 1119.42 L1633.88 1120.64 L1634.4 1118.3 L1634.93 1118.41 L1635.46 1113.68 L1635.99 1115.46 L1636.51 1112.31 L1637.04 1114.35 L1637.57 1108.81 L1638.1 1109.55 L1638.62 1108.3 L1639.15 1111.59 L1639.67 1110.13 L1640.2 1112.99 L1640.72 1109.66 L1641.25 1112.7 L1641.76 1111.18 L1642.28 1115.72 L1642.79 1112.38 L1643.3 1115.36 L1643.82 1112.35 L1644.33 1116.7 L1644.85 1113.67 L1645.36 1117.32 L1645.87 1113.6 L1646.39 1116.36 L1646.9 1115.8 L1647.44 1115.8 L1647.99 1111.21 L1648.53 1113.12 L1649.08 1107.08 L1649.62 1109.67 L1650.16 1104.39 L1650.71 1106.35 L1651.25 1103.3 L1651.87 1108.63 L1652.48 1108.6 L1653.1 1112.7 L1653.62 1109.21 L1654.15 1111.07 L1654.67 1106.78 L1655.2 1108.41 L1655.72 1104.5 L1656.25 1104.55 L1656.75 1104.72 L1657.25 1108.47 L1657.75 1106.44 L1658.25 1111.28 L1658.75 1110.8 L1659.28 1110.52 L1659.8 1105.44 L1660.33 1107.81 L1660.85 1102.3 L1661.38 1103.81 L1661.9 1100.2 L1662.42 1102.58 L1662.93 1099.09 L1663.45 1103.75 L1663.97 1101.05 L1664.48 1105.03 L1665 1104.55 L1665.53 1111.86 L1666.07 1114.54 L1666.6 1122.7 L1667.13 1112.54 L1667.67 1107.28 L1668.2 1097.7 L1668.73 1101.23 L1669.27 1100.69 L1669.8 1105.6 L1670.3 1095.67 L1670.8 1090.76 L1671.3 1078.65 L1671.8 1073.66 L1672.3 1063.3 L1672.84 1068.9 L1673.38 1068.34 L1673.91 1077.14 L1674.45 1076.89 L1674.99 1083.97 L1675.52 1084.9 L1676.06 1092.05 L1676.6 1093.7 L1677.16 1093.87 L1677.72 1090.76 L1678.28 1093.62 L1678.84 1089.66 L1679.4 1089.7 L1679.93 1087.52 L1680.47 1091.25 L1681 1087.52 L1681.53 1090.55 L1682.07 1087.98 L1682.6 1088.9 L1683.1 1085.39 L1683.6 1089.07 L1684.1 1083.65 L1684.6 1085.86 L1685.1 1081.69 L1685.6 1084.08 L1686.1 1080.76 L1686.6 1080.9 L1687.1 1079.35 L1687.6 1083.19 L1688.1 1080.5 L1688.6 1083.87 L1689.1 1080.06 L1689.6 1084.52 L1690.1 1079.84 L1690.6 1082.5 L1691.1 1079.27 L1691.6 1081.54 L1692.1 1076.39 L1692.6 1077.7 L1693.1 1077.61 L1693.6 1083.01 L1694.1 1081.36 L1694.6 1085.7 L1695.17 1098.35 L1695.75 1115.2 L1696.38 1099.19 L1697 1085.7 L1697.56 1081.38 L1698.11 1080.35 L1698.67 1074.69 L1699.23 1074.6 L1699.79 1068.96 L1700.34 1068.43 L1700.9 1064.1 L1701.43 1067.39 L1701.97 1066.97 L1702.5 1072.18 L1703.03 1071.87 L1703.57 1076.72 L1704.1 1077.7 L1704.6 1080.91 L1705.1 1078.33 L1705.6 1083.27 L1706.1 1081.36 L1706.6 1087.54 L1707.1 1084.81 L1707.6 1089.97 L1708.1 1089.7 L1708.63 1092.62 L1709.17 1089.55 L1709.7 1094.08 L1710.23 1090.45 L1710.77 1095.89 L1711.3 1093.25 L1711.83 1096.18 L1712.37 1093.62 L1712.9 1096.9 L1713.43 1094.84 L1713.97 1097.87 L1714.5 1093.83 L1715.03 1096.02 L1715.57 1092.33 L1716.1 1095.27 L1716.63 1090.05 L1717.17 1093.62 L1717.7 1091.3 L1718.2 1090.91 L1718.7 1085.49 L1719.2 1085.9 L1719.7 1079.99 L1720.2 1081.28 L1720.7 1075.61 L1721.2 1077.88 L1721.7 1073.7 L1722.3 1076.81 L1722.9 1075.68 L1723.5 1081.27 L1724.1 1082.5 L1724.66 1080.47 L1725.22 1073.82 L1725.78 1073.56 L1726.34 1065.8 L1726.9 1063.3 L1727.45 1063.93 L1728 1070.19 L1728.55 1070.31 L1729.1 1076.2 L1729.65 1077.47 L1730.2 1083.12 L1730.75 1081.73 L1731.3 1087.3 L1731.8 1084.87 L1732.3 1088.84 L1732.8 1083.89 L1733.3 1087.43 L1733.8 1084.38 L1734.3 1086.64 L1734.8 1083.38 L1735.3 1084.1 L1735.8 1081.56 L1736.3 1083.92 L1736.8 1080.01 L1737.3 1082.04 L1737.8 1078.04 L1738.3 1080.84 L1738.8 1076.84 L1739.3 1077.7 L1739.9 1074.38 L1740.5 1074.57 L1741.1 1068.71 L1741.7 1068.1 L1742.23 1063.82 L1742.77 1066.44 L1743.3 1061.87 L1743.83 1062.49 L1744.37 1058.04 L1744.9 1057.7 L1745.43 1059.78 L1745.97 1068.46 L1746.5 1067.54 L1747.03 1076.74 L1747.57 1075.9 L1748.1 1082.5 L1748.63 1081.76 L1749.17 1088.18 L1749.7 1087.3 L1750.3 1083.32 L1750.9 1076.03 L1751.5 1074.75 L1752.1 1068.1 L1752.9 1044.1 L1753.43 1041.54 L1753.97 1044.93 L1754.5 1040.6 L1755.03 1044.45 L1755.57 1040.5 L1756.1 1042.63 L1756.63 1037.84 L1757.17 1040.67 L1757.7 1039.3 L1758.2 1039.27 L1758.7 1034.92 L1759.2 1038.79 L1759.7 1034.44 L1760.2 1035.09 L1760.7 1030.96 L1761.2 1034.27 L1761.7 1029.5 L1762.2 1032.05 L1762.7 1027.05 L1763.2 1028.2 L1763.8 1028.92 L1764.4 1034.93 L1765 1036.22 L1765.6 1040.1 L1766.2 1033.9 L1766.8 1034.71 L1767.4 1025.88 L1768 1024.2 L1768.55 1024.18 L1769.1 1028.59 L1769.65 1027.29 L1770.2 1031.01 L1770.75 1029.52 L1771.3 1034.46 L1771.85 1032.85 L1772.4 1036.2 L1772.96 1031.74 L1773.52 1032.15 L1774.08 1026.03 L1774.64 1026.93 L1775.2 1022.6 L1775.73 1025.41 L1776.27 1023.42 L1776.8 1028.5 L1777.33 1027.95 L1777.87 1031.84 L1778.4 1032.2 L1778.93 1035.8 L1779.47 1033.88 L1780 1039.42 L1780.53 1038.76 L1781.07 1043.89 L1781.6 1042.61 L1782.13 1047.54 L1782.67 1046.51 L1783.2 1049.7 L1783.7 1046.52 L1784.2 1049.22 L1784.7 1046.1 L1785.2 1047.83 L1785.7 1044.32 L1786.2 1047 L1786.7 1042.09 L1787.2 1043.3 L1787.8 1040.68 L1788.4 1044.26 L1789 1041.18 L1789.6 1041.7 L1790.1 1043.73 L1790.6 1051.32 L1791.1 1053.12 L1791.6 1058.5 L1792.2 1047.37 L1792.8 1039.3 L1793.35 1028.34 L1793.9 1024 L1794.45 1012.75 L1795 1005.8 L1795.5 999.44 L1796 1000.53 L1796.5 992.58 L1797 991.12 L1797.5 986.2 L1798.02 984.35 L1798.54 976.21 L1799.06 975.62 L1799.58 968.32 L1800.1 966.4 L1800.62 970.52 L1801.15 978.57 L1801.67 981.05 L1802.2 988.3 L1802.72 981.58 L1803.23 980.49 L1803.75 972.14 L1804.27 970.31 L1804.78 963.35 L1805.3 960.2 L1805.82 961.31 L1806.33 965.88 L1806.85 965.27 L1807.37 970.89 L1807.88 971.3 L1808.4 974.8 L1808.92 969.46 L1809.44 970.83 L1809.96 963.14 L1810.48 963.5 L1811 959.1 L1811.65 945.78 L1812.3 928.25 L1812.6 942.72 L1813.13 925.13 L1813.67 910.78 L1814.2 892.46 L1814.7 889.09 L1815.2 881.47 L1815.7 877.13 L1816.2 866.22 L1816.78 853.19 L1817.35 837.78 L1817.92 826.53 L1818.5 811.62 L1819.2 775.7 L1820 759.32 L1820.57 756.21 L1821.13 750.84 L1821.7 747.85 L1822.2 726.5 L1823 659.8 L1823.6 642.84 L1824.2 626.5 L1824.7 622.88 L1825.2 620.01 L1825.7 616.23 L1826.2 613.62 L1826.7 609.8 L1827.23 604.41 L1827.77 598.45 L1828.3 593.1 L1829 576.18 L1829.7 559.8 L1830.3 525.48 L1830.9 491.5 L1831.6 455.84 L1832.3 420.7 L1832.9 402.76 L1833.5 385.44 L1834.1 367.19 L1834.7 349.8 L1834.8 281.9 L1835.4 270.44 L1836 257.95 L1836.6 246.5 L1837.14 237.58 L1837.68 229.83 L1838.22 220.52 L1838.76 212.68 L1839.3 204 L1839.85 199.8 L1840.4 194.96 L1840.95 190.96 L1841.5 185.86 L1842.05 182.32 L1842.6 177.09 L1843.15 173.19 L1843.7 168.55 L1844.2 165.28 L1844.7 161.13 L1845.2 158.2 L1845.7 153.98 L1846.2 151.36 L1846.7 147.02 L1847.2 143.8 L1847.74 142.2 L1848.28 141.77 L1848.82 139.77 L1849.36 139.06 L1849.9 137.6 L1850.42 137.61 L1850.94 136.17 L1851.46 136.35 L1851.98 135.3 L1852.5 135.54 L1853.02 134.61 L1853.54 134.51 L1854.06 133.62 L1854.59 133.77 L1855.11 132.67 L1855.63 132.58 L1856.15 131.73 L1856.67 131.91 L1857.19 130.69 L1857.71 130.92 L1858.23 129.76 L1858.75 129.6 L1859.25 128.81 L1859.76 128.61 L1860.26 127.63 L1860.76 127.48 L1861.27 126.5 L1861.77 126.54 L1862.28 125.32 L1862.78 125.34 L1863.28 124.09 L1863.79 124.15 L1864.29 123.04 L1864.79 123.2 L1865.3 121.82 L1865.8 121.6 L1866.33 120.68 L1866.86 120.7 L1867.39 119.43 L1867.92 119.39 L1868.45 118.03 L1868.98 118.11 L1869.51 116.78 L1870.04 117.09 L1870.57 115.56 L1871.1 115.4 L1871.6 114.8 L1872.1 114.95 L1872.6 113.74 L1873.1 114.1 L1873.6 113.25 L1874.1 113.47 L1874.6 112.45 L1875.1 112.64 L1875.6 111.9"/>
<path stroke="#ff0000" d="M1095.45 1019.98 L1096.25 988.75 L1097.05 1019.98 M1112.95 1035.75 L1113.75 1022 L1114.55 1035.75 M1127.3 1042.13 L1128.1 956.9 L1128.9 1042.13 M1128.95 1036.62 L1129.75 1002.5 L1130.55 1036.62 M1132.95 1046.4 L1133.75 1037.5 L1134.55 1046.4 M1143.6 1054.01 L1144.4 933.75 L1145.2 1054.01 M1145.45 1058.85 L1146.25 1038 L1147.05 1058.85 M1182.3 1063.7 L1183.1 1054.4 L1183.9 1063.7 M1186.45 1066.4 L1187.25 1055.6 L1188.05 1066.4 M1191.7 1129.5 L1192.5 922.5 L1193.3 1129.5 M1188.8 1127.29 L1189.6 1100 L1190.4 1127.29 M1189.8 1135.26 L1190.6 1101 L1191.4 1135.26 M1190.8 1131.25 L1191.6 1104 L1192.4 1131.25 M1192.7 1137.73 L1193.5 1112 L1194.3 1137.73 M1196.1 1127 L1196.9 1112.5 L1197.7 1127 M1197.4 1135.45 L1198.2 1118 L1199 1135.45 M1198.8 1141.32 L1199.6 1124 L1200.4 1141.32 M1200.2 1139.72 L1201 1128 L1201.8 1139.72 M1201.5 1140.34 L1202.3 1133 L1203.1 1140.34 M1204.8 1064.02 L1205.6 1050 L1206.4 1064.02 M1211.1 1047.91 L1211.9 1011.9 L1212.7 1047.91 M1214.2 1071.39 L1215 1052.5 L1215.8 1071.39 M1229.8 1008.9 L1230.6 1006.25 L1231.4 1008.9 M1238.6 1049.5 L1239.4 1044.4 L1240.2 1049.5 M1256.7 1049.5 L1257.5 1031.25 L1258.3 1049.5 M1261.1 1071.14 L1261.9 1015.6 L1262.7 1071.14 M1262.95 1074.5 L1263.75 1018.75 L1264.55 1074.5 M1295.45 1075.75 L1296.25 1071.25 L1297.05 1075.75 M1296.7 1081 L1297.5 1071 L1298.3 1081 M1346.7 1099.5 L1347.5 1078 L1348.3 1099.5 M1420.45 1087.6 L1421.25 1085 L1422.05 1087.6 M1428.9 1103.23 L1429.7 1079.4 L1430.5 1103.23 M1431.7 1097.43 L1432.5 1075.6 L1433.3 1097.43 M1570.1 1130.75 L1570.9 1123 L1571.7 1130.75 M1582.95 1124.5 L1583.75 1118.75 L1584.55 1124.5 M1661.7 1103.37 L1662.5 1093 L1663.3 1103.37 M1671.8 1069.92 L1672.6 1057.1 L1673.4 1069.92 M1687.4 1080.32 L1688.2 1065.9 L1689 1080.32 M1691.4 1078.9 L1692.2 1060.3 L1693 1078.9 M1700.5 1068.87 L1701.3 1058.7 L1702.1 1068.87 M1720.9 1074.9 L1721.7 1055.1 L1722.5 1074.9 M1728.5 1077.29 L1729.3 1055.9 L1730.1 1077.29 M1735.7 1086.04 L1736.5 1026 L1737.3 1086.04 M1737.7 1082.28 L1738.5 1040 L1739.3 1082.28 M1739.7 1075.5 L1740.5 1021.6 L1741.3 1075.5 M1741.7 1065.22 L1742.5 1035 L1743.3 1065.22 M1744.1 1058.9 L1744.9 1012.8 L1745.7 1058.9 M1746.2 1076.82 L1747 1030 L1747.8 1076.82 M1748.5 1088.49 L1749.3 1006 L1750.1 1088.49 M1750.2 1077.8 L1751 1030 L1751.8 1077.8 M1752.1 1045.3 L1752.9 1028.8 L1753.7 1045.3 M1755.3 1043.79 L1756.1 1020.8 L1756.9 1043.79 M1766.4 1027.15 L1767.2 1020 L1768 1027.15 M1775.2 1026.73 L1776 1020 L1776.8 1026.73 M1788 1041.91 L1788.8 1029.2 L1789.6 1041.91 M1799.6 970.82 L1800.4 959.2 L1801.2 970.82 M1804.2 965.19 L1805 954.5 L1805.8 965.19 M1808.7 971.79 L1809.5 955 L1810.3 971.79 M1811.1 946.36 L1811.9 915.4 L1812.7 946.36"/>
<path stroke="#000000" d="M280.6 114.4 L281.15 115.18 L281.7 115.15 L282.25 116.31 L282.8 116.21 L283.35 117.49 L283.9 117.49 L284.45 118.36 L285 118.75 L285.5 119.44 L286 119.01 L286.5 119.73 L287 119.25 L287.5 120.31 L288 119.81 L288.5 120.82 L289 120.38 L289.5 121.2 L290 121.25 L290.5 121.75 L291 121.04 L291.5 121.95 L292 121.33 L292.5 122.25 L293 121.82 L293.5 122.53 L294 121.88 L294.5 122.62 L295 122.32 L295.5 123.06 L296 122.41 L296.5 123.25 L297 122.52 L297.5 123.1 L298 122.87 L298.5 123.91 L299 123.31 L299.5 124.2 L300 123.63 L300.5 124.58 L301 123.81 L301.5 124.62 L302 124.4 L302.5 124.99 L303 124.45 L303.5 125.4 L304 124.9 L304.5 125.69 L305 125.6 L305.52 126.07 L306.04 125.59 L306.56 126.29 L307.08 125.8 L307.6 126.64 L308.12 125.96 L308.65 126.95 L309.17 126.22 L309.69 127.29 L310.21 126.48 L310.73 127.5 L311.25 127.25 L311.77 127.64 L312.29 127.16 L312.81 128.28 L313.33 127.5 L313.85 128.5 L314.38 127.93 L314.9 128.73 L315.42 128.24 L315.94 129.21 L316.46 128.79 L316.98 129.39 L317.5 129.4 L318 130.02 L318.5 129.24 L319 130.08 L319.5 129.64 L320 130.53 L320.5 130.2 L321 130.83 L321.5 130.32 L322 131.36 L322.5 130.91 L323 131.61 L323.5 131.24 L324 131.98 L324.5 131.48 L325 132.37 L325.5 131.59 L326 132.57 L326.5 131.92 L327 132.84 L327.5 132.75 L328.13 133.26 L328.77 133.06 L329.4 133.75 L329.92 133.28 L330.43 133.35 L330.95 132.53 L331.47 132.88 L331.98 132 L332.5 131.9 L333.05 131.78 L333.6 132.44 L334.15 131.77 L334.7 132.56 L335.25 131.65 L335.8 132.44 L336.35 131.9 L336.9 132.25 L337.42 131.54 L337.93 131.88 L338.45 130.77 L338.97 131.1 L339.48 130.01 L340 130 L340.5 129.27 L341 129.83 L341.5 128.95 L342 129.4 L342.5 128.52 L343 128.76 L343.5 127.76 L344 128.33 L344.5 127.41 L345 127.5 L345.5 126.85 L346 126.8 L346.5 125.65 L347 125.66 L347.5 124.63 L348 124.87 L348.5 123.83 L349 123.87 L349.5 122.69 L350 122.5 L350.5 121.86 L351 122.27 L351.5 121.35 L352 121.91 L352.5 121.09 L353 121.17 L353.5 120.36 L354 120.99 L354.5 120.01 L355 120 L355.52 119.74 L356.04 120.46 L356.56 119.89 L357.08 120.48 L357.6 119.99 L358.12 120.58 L358.65 119.99 L359.17 120.66 L359.69 120.17 L360.21 120.92 L360.73 120.39 L361.25 120.6 L361.77 120.2 L362.29 120.91 L362.81 120.19 L363.33 120.63 L363.85 119.92 L364.38 120.53 L364.9 120.03 L365.42 120.5 L365.94 119.76 L366.46 120.29 L366.98 119.79 L367.5 120 L368.02 119.82 L368.54 120.61 L369.06 119.95 L369.58 120.78 L370.1 120.21 L370.62 120.77 L371.15 120.21 L371.67 121.13 L372.19 120.44 L372.71 121.06 L373.23 120.72 L373.75 121 L374.27 121 L374.79 121.88 L375.31 121.57 L375.83 122.78 L376.35 122.45 L376.88 123.25 L377.4 122.9 L377.92 124.04 L378.44 123.57 L378.96 124.6 L379.48 124.47 L380 125 L380.52 125.48 L381.04 126.89 L381.56 126.94 L382.08 128.19 L382.6 128.35 L383.12 129.67 L383.65 129.81 L384.17 131.31 L384.69 131.36 L385.21 132.44 L385.73 132.54 L386.25 133.75 L386.79 133.65 L387.32 134.96 L387.86 134.52 L388.39 135.66 L388.93 135.06 L389.46 136.12 L390 136.25 L390.5 137.03 L391 136.55 L391.5 137.74 L392 137.4 L392.5 138.1 L393.12 140.05 L393.75 142.5 L394.37 141.81 L394.98 141.9 L395.6 141.25 L396.25 138.3 L396.9 135 L397.52 134.94 L398.13 133.92 L398.75 133.75 L399.29 133.55 L399.84 134.38 L400.38 133.98 L400.93 135.07 L401.47 134.43 L402.01 135.6 L402.56 134.9 L403.1 135.6 L403.75 150.57 L404.4 166.25 L405 168.27 L405.6 170.6 L406.23 162.91 L406.87 156.24 L407.5 148.75 L408.13 144.42 L408.77 139.2 L409.4 135 L409.92 134.15 L410.43 134.26 L410.95 132.97 L411.47 133.3 L411.98 132.15 L412.5 131.9 L413 131.22 L413.5 131.47 L414 130.26 L414.5 130.56 L415 129.43 L415.5 129.48 L416 128.48 L416.5 128.82 L417 127.73 L417.5 127.5 L418.05 127.94 L418.6 129.7 L419.15 129.66 L419.7 131.39 L420.25 131.66 L420.8 133.05 L421.35 133.09 L421.9 134.4 L422.43 133.99 L422.95 134.16 L423.48 133.43 L424.01 133.77 L424.53 132.89 L425.06 133.26 L425.59 132.28 L426.12 132.61 L426.64 132.05 L427.17 132.17 L427.7 131.54 L428.22 131.67 L428.75 131.25 L429.27 131.8 L429.79 130.91 L430.31 131.59 L430.83 131.14 L431.35 131.78 L431.88 131.31 L432.4 131.9 L432.92 131.31 L433.44 132.09 L433.96 131.52 L434.48 132.06 L435 131.9 L435.63 135.7 L436.27 138.77 L436.9 142.5 L437.43 146.96 L437.97 152.5 L438.5 156.9 L439.02 154.83 L439.55 152.02 L440.08 150.06 L440.6 147.5 L441.23 146.53 L441.87 144.64 L442.5 143.75 L443.12 144.58 L443.75 146.25 L444.25 129.09 L444.75 112.5 L445.29 112.07 L445.82 112.87 L446.36 112.2 L446.9 112.5 L447.5 135.6 L448.04 134.72 L448.57 132.96 L449.11 132.52 L449.64 130.67 L450.18 130.21 L450.71 128.35 L451.25 127.5 L451.77 127.26 L452.3 127.84 L452.82 127.11 L453.35 127.68 L453.88 127.2 L454.4 127.5 L454.94 127.67 L455.49 128.9 L456.03 128.43 L456.57 129.66 L457.12 129.38 L457.66 130.74 L458.21 130.54 L458.75 131.25 L459.29 130 L459.84 129.57 L460.38 128 L460.93 127.88 L461.47 126.1 L462.01 126.05 L462.56 124.3 L463.1 123.75 L463.62 123.97 L464.15 125.35 L464.68 125.44 L465.2 126.61 L465.73 126.72 L466.25 127.5 L466.75 127.38 L467.25 128.09 L467.75 127.58 L468.25 128.02 L468.75 127.73 L469.25 128.46 L469.75 127.87 L470.25 128.32 L470.75 127.81 L471.25 128.53 L471.75 127.97 L472.25 128.89 L472.75 128.14 L473.25 129.15 L473.75 128.75 L474.27 129.1 L474.79 128.32 L475.31 128.91 L475.83 128.33 L476.35 129.08 L476.88 128.35 L477.4 128.94 L477.92 128.34 L478.44 129.23 L478.96 128.58 L479.48 129.01 L480 128.75 L480.63 128.26 L481.27 126.64 L481.9 126.25 L482.42 127.79 L482.93 130.01 L483.45 131.34 L483.97 133.72 L484.48 134.71 L485 136.9 L485.5 135.23 L486 134.42 L486.5 132.47 L487 131.65 L487.5 130 L488 130.11 L488.5 129.44 L489 129.76 L489.5 128.75 L490 129.34 L490.5 128.45 L491 128.88 L491.5 128.09 L492 128.7 L492.5 128.1 L493.04 128.67 L493.57 128.14 L494.11 128.98 L494.64 128.47 L495.18 129.49 L495.71 129.01 L496.25 129.4 L496.87 131.08 L497.48 133.55 L498.1 135 L498.73 141.3 L499.37 146.34 L500 152.5 L500.5 198.75 L501 185.72 L501.5 171.68 L502 158.75 L502.58 160.2 L503.17 162.33 L503.75 163.75 L504.38 215.22 L505 266.25 L505.62 224.73 L506.25 182.5 L506.88 244.01 L507.5 305 L508 415 L508.5 409.77 L509 405.39 L509.5 400 L509.5 514 L510.2 528.6 L510.8 535.08 L511.4 540.35 L512 546.6 L512.5 559.47 L513 573.43 L513.5 586.4 L514.2 604.9 L514.9 622.5 L515.6 649.5 L515.8 665.8 L516.4 658.9 L517 651.3 L517.5 659.38 L518 666.74 L518.5 674.8 L519.05 679.62 L519.6 685.07 L520.15 689.44 L520.7 694.7 L521.4 692.19 L522.1 690.1 L522.75 694.77 L523.4 700 L524.3 712.7 L524.9 711.2 L525.5 708.63 L526.1 707.3 L526.7 699.87 L527.3 693.33 L527.9 685.6 L528.4 679.92 L528.9 673.24 L529.4 667.6 L530 680.84 L530.6 694.7 L531.25 696.06 L531.9 698.3 L532.45 678.01 L533 658.6 L533.7 622.5 L534.4 591.24 L535.1 559.3 L535.6 549.39 L536.1 538.43 L536.6 528.6 L537.3 496 L538 460 L538.5 391.43 L539 324.04 L539.5 255.22 L540 187.5 L540.54 180.41 L541.07 174.6 L541.61 167.45 L542.14 161.3 L542.68 154.06 L543.21 148.24 L543.75 141.25 L544.25 142.49 L544.75 142.3 L545.25 143.73 L545.75 144.03 L546.25 145 L546.83 148.93 L547.42 153.55 L548 157.5 L548.62 159.15 L549.25 160 L549.88 181.7 L550.5 202.5 L551 218.8 L551.5 233.93 L552 250 L552.58 229.55 L553.17 210.26 L553.75 190 L554.33 183.63 L554.92 176.26 L555.5 170 L556 164.51 L556.5 159.56 L557 153.62 L557.5 148.75 L558.08 150.58 L558.67 153.19 L559.25 155 L559.88 166.6 L560.5 177.5 L561 168.51 L561.5 158.6 L562 149.64 L562.5 140 L563 139.8 L563.5 138.68 L564 138.72 L564.5 137.65 L565 137.5 L565.5 137.39 L566 138.54 L566.5 138.28 L567 139.19 L567.5 139.13 L568 140.13 L568.5 139.94 L569 140.96 L569.5 140.41 L570 141.25 L570.5 142.32 L571 144.23 L571.5 144.72 L572 146.67 L572.5 147.08 L573 148.75 L573.54 146.83 L574.08 145.8 L574.62 143.37 L575.17 142.52 L575.71 140.17 L576.25 138.75 L576.75 138.34 L577.25 139.24 L577.75 138.36 L578.25 139.09 L578.75 138.56 L579.25 139.07 L579.75 138.48 L580.25 139.15 L580.75 138.36 L581.25 138.75 L581.79 138.22 L582.32 138.61 L582.86 137.84 L583.39 138.41 L583.93 137.64 L584.46 138.14 L585 137.5 L585.54 137.34 L586.07 136.24 L586.61 136.37 L587.14 135.16 L587.68 135.09 L588.21 133.88 L588.75 133.75 L589.27 132.97 L589.79 133.26 L590.31 132.12 L590.83 132.39 L591.35 131.41 L591.88 131.46 L592.4 130.66 L592.92 130.82 L593.44 129.59 L593.96 129.92 L594.48 128.76 L595 128.75 L595.5 127.97 L596 127.99 L596.5 126.97 L597 127.21 L597.5 126.09 L598 126.08 L598.5 125.01 L599 125.17 L599.5 123.98 L600 123.75 L600.5 123.61 L601 124.29 L601.5 123.79 L602 124.67 L602.5 124.1 L603 124.95 L603.5 124.44 L604 124.99 L604.5 124.69 L605 125 L605.5 124.86 L606 125.52 L606.5 124.75 L607 125.41 L607.5 125.03 L608 125.6 L608.5 124.94 L609 125.84 L609.5 125.04 L610 125.5 L610.5 125.34 L611 126.1 L611.5 125.81 L612 126.52 L612.5 126.5 L613.02 126.68 L613.53 125.85 L614.05 126.27 L614.57 125.66 L615.08 126.17 L615.6 125.6 L616.12 125.34 L616.65 124.34 L617.17 124.81 L617.7 123.45 L618.23 123.8 L618.75 123.1 L619.29 123.36 L619.82 122.57 L620.36 123.21 L620.89 122.27 L621.43 123.06 L621.96 122.33 L622.5 122.5 L623.04 121.73 L623.57 122.18 L624.11 121.18 L624.64 121.62 L625.18 120.74 L625.71 120.99 L626.25 120.25 L626.77 120.59 L627.3 119.84 L627.83 120.46 L628.35 119.77 L628.88 120.26 L629.4 120 L629.94 120.54 L630.49 120.24 L631.03 120.93 L631.58 120.42 L632.12 121.31 L632.66 120.85 L633.21 121.89 L633.75 121.6 L634.25 122 L634.75 121.28 L635.25 121.85 L635.75 120.99 L636.25 121.47 L636.75 120.96 L637.25 121.41 L637.75 120.94 L638.25 121.4 L638.75 121 L639.29 121.78 L639.82 121.34 L640.36 122.35 L640.89 121.81 L641.43 122.7 L641.96 122.35 L642.5 123.1 L643 123.03 L643.5 124.16 L644 123.58 L644.5 124.68 L645 124.3 L645.5 125.29 L646 124.68 L646.5 125.9 L647 125.44 L647.5 126.45 L648 126.01 L648.5 126.81 L649 126.75 L649.5 127.38 L650 127.5 L650.52 128.19 L651.04 128.23 L651.56 129.22 L652.08 128.97 L652.6 130.17 L653.12 130 L653.65 131.14 L654.17 130.98 L654.69 132.01 L655.21 131.75 L655.73 132.92 L656.25 133.1 L656.77 133.73 L657.29 133.47 L657.81 134.75 L658.33 134.49 L658.85 135.46 L659.38 135.26 L659.9 136.38 L660.42 136.2 L660.94 137 L661.46 137.04 L661.98 138.11 L662.5 138.1 L663.12 139.88 L663.75 141.25 L664.38 149.69 L665 157.5 L665.62 175.22 L666.25 192.5 L666.88 235.62 L667.5 278.3 L668 317.36 L668.5 356 L669.13 382.22 L669.77 407.66 L670.4 433.8 L671.1 461.34 L671.8 489.2 L672.3 486.74 L672.8 484.88 L673.3 482.4 L673.88 469.12 L674.46 455.03 L675.04 441.76 L675.62 427.69 L676.2 414.4 L676.7 404.37 L677.2 395.33 L677.7 385.03 L678.2 375.76 L678.7 365.44 L679.2 356 L679.78 342.24 L680.36 329.29 L680.94 314.97 L681.52 301.78 L682.1 288 L682.73 274.72 L683.37 260.59 L684 247.2 L684.58 244.89 L685.16 243.59 L685.74 241.19 L686.32 239.61 L686.9 237.5 L687.43 233.74 L687.97 228.92 L688.5 225 L689 219.16 L689.5 214.48 L690 208.75 L690.5 206.85 L691 203.74 L691.5 201.86 L692 199.01 L692.5 197.31 L693 194.13 L693.5 192.4 L694 189.57 L694.5 187.76 L695 185 L695.5 183.49 L696 180.64 L696.5 179.15 L697 176.84 L697.5 175 L698.04 172.32 L698.57 170.21 L699.11 167.34 L699.64 165.17 L700.18 162.12 L700.71 160.47 L701.25 157.5 L701.75 155.47 L702.25 152.51 L702.75 151.07 L703.25 148.07 L703.75 146.25 L704.25 144.65 L704.75 144.47 L705.25 142.7 L705.75 141.99 L706.25 140.6 L706.79 140.76 L707.34 139.72 L707.88 140.18 L708.42 139.55 L708.97 140.05 L709.51 139.21 L710.06 139.49 L710.6 139 L711.15 139.36 L711.7 138.8 L712.25 139.76 L712.8 139.16 L713.35 139.88 L713.9 139.16 L714.45 140.1 L715 139.75 L715.54 140.76 L716.07 140.61 L716.61 142.02 L717.14 142.11 L717.68 143.3 L718.21 143.31 L718.75 144.4 L719.29 146.19 L719.84 148.86 L720.38 150.51 L720.92 153.23 L721.47 154.57 L722.01 157.44 L722.56 158.86 L723.1 161.25 L723.73 166.35 L724.37 172.29 L725 177.5 L725.8 220 L726.3 234.18 L726.8 249.31 L727.3 263.41 L727.8 278.3 L728.43 310.28 L729.07 343.49 L729.7 375.5 L730.35 427.93 L731 480 L731.55 501.73 L732.1 522.55 L732.65 544.87 L733.2 566 L733.7 595.12 L734.2 622.88 L734.7 652 L735.23 667.84 L735.75 684.76 L736.27 700.04 L736.8 716.6 L737.35 723.77 L737.9 732.05 L738.45 738.9 L739 746.7 L739.5 754.79 L740 764.82 L740.5 772.5 L741.07 772.51 L741.63 771.07 L742.2 771.4 L742.77 764.24 L743.33 758.12 L743.9 751 L744.8 779 L745.45 752.49 L746.1 727.3 L746.6 723.77 L747.1 721.08 L747.6 717.4 L748.1 714.88 L748.6 710.81 L749.1 708 L749.75 737.86 L750.4 768.2 L750.92 749.51 L751.45 732.3 L751.98 713.03 L752.5 695 L753 691.82 L753.5 689.63 L754 686.5 L754.55 668.62 L755.1 649.9 L755.65 649.71 L756.2 648.8 L756.8 708 L757.3 681.74 L757.8 656.67 L758.3 630.5 L758.85 576.97 L759.4 523 L759.95 501.71 L760.5 480 L761 469.08 L761.5 457.36 L762 446.7 L762.5 366.7 L763.07 343.56 L763.63 319.87 L764.2 296.7 L764.73 283.98 L765.27 272.45 L765.8 260 L766.4 251.31 L767 241.7 L767.5 212.68 L768 183.3 L768.6 176.56 L769.2 169.2 L769.75 176.48 L770.3 183.3 L770.8 283.3 L771.7 350 L772.5 420 L773.07 415.96 L773.63 413.17 L774.2 409.2 L774.75 436.62 L775.3 463.3 L776 519.17 L776.7 574.2 L777.35 527.56 L778 480 L778.6 439.87 L779.2 399.2 L779.75 431.61 L780.3 463.3 L781 513.61 L781.7 563.3 L782.35 583.09 L783 602.5 L783.57 584.34 L784.13 564.94 L784.7 546.7 L785.25 529.56 L785.8 513.3 L786.37 512.54 L786.93 512.57 L787.5 511.7 L788.07 487.55 L788.63 462.36 L789.2 438.3 L789.73 431.76 L790.27 425.84 L790.8 419.2 L791.4 439.92 L792 460 L792.57 457.94 L793.13 455.19 L793.7 453.3 L794.35 463.34 L795 474.2 L795.57 459.17 L796.13 445.11 L796.7 430 L797.23 400.63 L797.77 370.31 L798.3 340.8 L799 345.13 L799.7 350 L800.25 391.6 L800.8 434.2 L801.3 428.09 L801.8 422.82 L802.3 416.5 L802.8 411.07 L803.3 405 L803.87 384.92 L804.43 363.96 L805 344.55 L805.57 323.41 L806.13 304.08 L806.7 283.3 L807.5 245 L808.1 258.79 L808.7 273.3 L809.35 257.82 L810 243.3 L810.57 248.53 L811.13 254.73 L811.7 260 L812.23 258.25 L812.77 255.07 L813.3 253.3 L814.2 221.7 L814.73 202.72 L815.27 182.45 L815.8 163.3 L816.4 168.73 L817 175 L817.65 167.21 L818.3 160 L818.87 156.17 L819.43 153.81 L820 150 L820.57 156.35 L821.13 161.72 L821.7 168.3 L822.23 163.09 L822.77 158.48 L823.3 153.3 L823.87 153.44 L824.43 152.51 L825 152.83 L825.57 151.86 L826.13 152.13 L826.7 151.7 L827.4 150.96 L828.1 149.4 L828.62 148.29 L829.15 146.38 L829.67 145.6 L830.2 143.56 L830.73 143.02 L831.25 141.25 L831.79 140.88 L832.32 139.82 L832.86 139.64 L833.39 138.47 L833.93 138.32 L834.46 137.32 L835 136.9 L835.5 136.1 L836 136.54 L836.5 135.27 L837 135.87 L837.5 134.54 L838 134.9 L838.5 134.03 L839 134.12 L839.5 133.17 L840 133.1 L840.5 132.74 L841 133.39 L841.5 132.75 L842 133 L842.58 133.42 L843.17 134.98 L843.75 135.6 L844.27 136.23 L844.8 135.77 L845.33 136.98 L845.85 136.61 L846.38 137.42 L846.9 137.5 L847.52 136.9 L848.13 135.28 L848.75 134.4 L849.29 133.93 L849.82 134.19 L850.36 133.25 L850.89 133.52 L851.43 132.88 L851.96 132.99 L852.5 132.5 L853.04 133.28 L853.57 132.9 L854.11 134.06 L854.64 133.5 L855.18 134.78 L855.71 134.48 L856.25 135 L856.77 135.1 L857.3 135.79 L857.83 135.65 L858.35 136.54 L858.88 136.42 L859.4 136.9 L859.92 137.28 L860.43 138.53 L860.95 138.82 L861.47 140.04 L861.98 140.09 L862.5 141.25 L863.04 141.05 L863.57 141.68 L864.11 141.36 L864.64 141.92 L865.18 141.34 L865.71 142.19 L866.25 141.9 L866.75 142.11 L867.25 140.95 L867.75 141.36 L868.25 140.66 L868.75 140.6 L869.29 140.28 L869.82 141.21 L870.36 140.55 L870.89 141.41 L871.43 140.72 L871.96 141.41 L872.5 141.25 L873.04 141.72 L873.57 141.62 L874.11 142.42 L874.64 141.84 L875.18 143.04 L875.71 142.52 L876.25 143.1 L876.77 142.41 L877.3 142.96 L877.83 141.74 L878.35 142.23 L878.88 141.26 L879.4 141.25 L879.92 141.71 L880.45 143.03 L880.98 143.4 L881.5 144.4 L882.03 146.08 L882.57 149.03 L883.1 150.6 L883.73 149.07 L884.37 146.57 L885 145 L885.52 145.04 L886.03 145.94 L886.55 145.52 L887.07 146.58 L887.58 146.1 L888.1 146.9 L888.62 147.11 L889.15 147.99 L889.67 147.82 L890.2 148.86 L890.73 148.54 L891.25 149.4 L891.79 148.69 L892.32 149.33 L892.86 148.22 L893.39 148.47 L893.93 147.69 L894.46 148.11 L895 147.5 L895.52 147.61 L896.04 146.84 L896.56 147.27 L897.08 146.2 L897.6 146.64 L898.12 145.87 L898.65 146.32 L899.17 145.5 L899.69 146.09 L900.21 144.93 L900.73 145.58 L901.25 145 L901.79 144.42 L902.32 142.93 L902.86 142.81 L903.39 141.52 L903.93 141.44 L904.46 139.94 L905 139.4 L905.5 138.99 L906 139.55 L906.5 138.42 L907 139 L907.5 138.29 L908 138.66 L908.5 138.05 L909 138.32 L909.5 137.42 L910 137.75 L910.52 137.76 L911.04 138.36 L911.56 138.09 L912.08 138.68 L912.6 138.35 L913.12 139.29 L913.65 138.62 L914.17 139.62 L914.69 139 L915.21 139.78 L915.73 139.56 L916.25 140 L916.75 139.95 L917.25 141.05 L917.75 141.08 L918.25 142.08 L918.75 141.96 L919.25 142.98 L919.75 142.91 L920.25 143.75 L920.75 143.47 L921.25 144.4 L921.75 145.32 L922.25 147.11 L922.75 147.55 L923.25 149.38 L923.75 150 L924.37 152.47 L924.98 153.79 L925.6 156.25 L926.23 157.3 L926.87 158.92 L927.5 160 L928 158.92 L928.5 156.79 L929 155.72 L929.5 153.56 L930 152.5 L930.52 152.67 L931.03 153.92 L931.55 153.89 L932.07 155.34 L932.58 155.34 L933.1 156.25 L933.62 154.92 L934.15 154.25 L934.67 152.33 L935.2 151.93 L935.73 150.35 L936.25 149.4 L936.79 149.01 L937.32 149.22 L937.86 148.57 L938.39 149.13 L938.93 148.29 L939.46 148.5 L940 148.1 L940.63 147.75 L941.27 145.93 L941.9 145.6 L942.42 145.22 L942.93 146.05 L943.45 145.65 L943.97 146.52 L944.48 145.82 L945 146.65 L945.52 146.1 L946.03 146.62 L946.55 146.3 L947.07 147.1 L947.58 146.37 L948.1 146.9 L948.62 147.9 L949.15 149.91 L949.67 150.61 L950.2 152.6 L950.73 153.31 L951.25 155 L951.75 156.06 L952.25 158.22 L952.75 159.14 L953.25 161.48 L953.75 162.5 L954.38 166.4 L955 169.4 L955.5 165.86 L956 161.9 L956.5 165.09 L957 166.86 L957.5 170 L958.03 174.16 L958.57 178.98 L959.1 183.1 L959.6 178.12 L960.1 172.53 L960.6 167.5 L961.25 162.31 L961.9 158.1 L962.5 160.63 L963.1 163.75 L963.75 158.92 L964.4 155 L965 148.56 L965.6 142.5 L966.15 142.35 L966.7 142.95 L967.25 142.07 L967.8 143 L968.35 142.11 L968.9 142.83 L969.45 142.08 L970 142.5 L970.54 142.4 L971.07 143.01 L971.61 142.45 L972.14 143.04 L972.68 142.57 L973.21 143.28 L973.75 143.1 L974.25 143.15 L974.75 142.27 L975.25 142.54 L975.75 141.73 L976.25 142.09 L976.75 140.97 L977.25 141.66 L977.75 140.46 L978.25 141.08 L978.75 140.12 L979.25 140.59 L979.75 139.58 L980.25 139.74 L980.75 138.95 L981.25 139 L981.76 138.59 L982.27 139.27 L982.78 138.62 L983.3 139.25 L983.81 138.51 L984.32 139.31 L984.83 138.68 L985.34 139.34 L985.85 138.54 L986.36 139.5 L986.88 138.67 L987.39 139.3 L987.9 138.63 L988.41 139.17 L988.92 138.7 L989.43 139.45 L989.94 138.58 L990.45 139.17 L990.97 138.55 L991.48 139.28 L991.99 138.51 L992.5 139 L993.01 138.82 L993.53 139.41 L994.04 138.94 L994.56 139.84 L995.07 139.17 L995.59 140.02 L996.1 139.26 L996.62 140.03 L997.13 139.59 L997.65 140.27 L998.16 139.75 L998.68 140.41 L999.19 139.85 L999.71 140.77 L1000.22 140.06 L1000.74 140.71 L1001.25 140.6 L1001.75 140.51 L1002.25 139.68 L1002.75 140.01 L1003.25 139.12 L1003.75 139 L1004.25 138.87 L1004.75 139.36 L1005.25 138.9 L1005.75 139.36 L1006.25 138.91 L1006.75 139.77 L1007.25 139.01 L1007.75 139.81 L1008.25 139.01 L1008.75 139.94 L1009.25 139.08 L1009.75 139.9 L1010.25 139.26 L1010.75 139.89 L1011.25 139.29 L1011.75 140.08 L1012.25 139.53 L1012.75 140.36 L1013.25 139.7 L1013.75 140 L1014.25 139.65 L1014.75 140.16 L1015.25 139.23 L1015.75 139.63 L1016.25 139.15 L1016.75 139.45 L1017.25 138.88 L1017.75 139.34 L1018.25 138.55 L1018.75 138.87 L1019.25 138.2 L1019.75 138.68 L1020.25 137.91 L1020.75 138.45 L1021.25 137.56 L1021.75 138.1 L1022.25 137.48 L1022.75 138.02 L1023.25 137 L1023.75 137.25 L1024.25 136.99 L1024.75 137.39 L1025.25 136.59 L1025.75 137.41 L1026.25 136.66 L1026.75 136.9 L1027.25 136.35 L1027.75 136.88 L1028.25 136.04 L1028.75 136.86 L1029.25 136.07 L1029.75 136.55 L1030.25 135.81 L1030.75 136.54 L1031.25 136 L1031.75 136.22 L1032.25 135.71 L1032.75 136.18 L1033.25 135.63 L1033.75 136.16 L1034.25 135.52 L1034.75 136.33 L1035.25 135.65 L1035.75 136.18 L1036.25 136 L1036.75 136.48 L1037.25 136.19 L1037.75 137.2 L1038.25 136.66 L1038.75 137.5 L1039.25 137.01 L1039.75 138.13 L1040.25 137.67 L1040.75 138.47 L1041.25 138.5 L1041.76 138.78 L1042.28 138.09 L1042.79 138.78 L1043.31 138.28 L1043.82 139.01 L1044.34 138.4 L1044.85 139.12 L1045.37 138.27 L1045.88 139.21 L1046.4 138.39 L1046.91 139.04 L1047.43 138.68 L1047.94 139.18 L1048.46 138.65 L1048.97 139.16 L1049.49 138.52 L1050 139 L1050.52 139.04 L1051.03 139.97 L1051.55 139.32 L1052.07 140.26 L1052.58 139.86 L1053.1 140.6 L1053.75 144.39 L1054.4 148.75 L1055 186.65 L1055.6 225 L1056.2 312.28 L1056.8 400 L1057.3 499.84 L1057.8 600 L1058.3 700 L1059.2 766.7 L1059.7 776.7 L1060.3 816.7 L1060.8 848.99 L1061.3 883.3 L1061.9 884.78 L1062.5 888.3 L1063.3 893.3 L1063.8 898.99 L1064.3 899.61 L1064.8 905.96 L1065.3 908.16 L1065.8 913.3 L1066.37 910.5 L1066.93 910.8 L1067.5 908.3 L1068.1 930 L1068.75 942.7 L1069.4 957.5 L1070.02 964.69 L1070.63 976.07 L1071.25 982.5 L1071.88 993.24 L1072.5 1001.25 L1073.02 1003.07 L1073.53 1001.74 L1074.05 1005.33 L1074.57 1002.78 L1075.08 1006.64 L1075.6 1006.25 L1076.23 1013.09 L1076.87 1014.64 L1077.5 1020.6 L1078.13 1020.48 L1078.77 1026.26 L1079.4 1026.25 L1079.92 1028.29 L1080.43 1025.99 L1080.95 1030.57 L1081.47 1028.25 L1081.98 1032.83 L1082.5 1031.9 L1083 1032.94 L1083.5 1028.55 L1084 1030.14 L1084.5 1026.17 L1085 1027.5 L1085.52 1024.53 L1086.03 1027.92 L1086.55 1023.79 L1087.07 1026.27 L1087.58 1021.96 L1088.1 1023.75 L1088.65 1023.43 L1089.2 1028.36 L1089.75 1026.62 L1090.3 1030.6 L1090.88 1027.61 L1091.45 1031.18 L1092.03 1026.76 L1092.6 1030.59 L1093.17 1027.41 L1093.75 1028.1 L1094.32 1024.28 L1094.89 1026.02 L1095.46 1020.77 L1096.03 1022.98 L1096.6 1019.4 L1097.5 1031.25 L1098.03 1033.39 L1098.57 1039.22 L1099.1 1040.6 L1099.64 1040.13 L1100.17 1033.35 L1100.71 1033.96 L1101.25 1029.4 L1101.75 1032.12 L1102.25 1028.55 L1102.75 1032.19 L1103.25 1029.04 L1103.75 1031.25 L1104.28 1030.01 L1104.8 1034.48 L1105.33 1033.42 L1105.85 1037.58 L1106.38 1034.67 L1106.9 1037.5 L1107.43 1036.88 L1107.96 1041.33 L1108.49 1037.25 L1109.01 1042.12 L1109.54 1038.49 L1110.07 1044.09 L1110.6 1042.5 L1111.12 1044.02 L1111.65 1039.94 L1112.17 1041.42 L1112.7 1037.98 L1113.22 1041.49 L1113.75 1038.75 L1114.25 1041.54 L1114.75 1039.84 L1115.25 1044.67 L1115.75 1043 L1116.25 1045.6 L1116.79 1044.18 L1117.32 1048.66 L1117.86 1046 L1118.39 1049.09 L1118.93 1046.95 L1119.46 1050.73 L1120 1050 L1120.54 1052.37 L1121.07 1049.45 L1121.61 1052.31 L1122.14 1049.95 L1122.68 1052.88 L1123.21 1049.8 L1123.75 1051.9 L1124.29 1050.48 L1124.82 1051.88 L1125.36 1048.89 L1125.89 1051.25 L1126.43 1047.95 L1126.96 1050.28 L1127.5 1048.75 L1128.13 1045.13 L1128.77 1037.83 L1129.4 1035 L1129.9 1039.62 L1130.4 1051.53 L1130.9 1056.25 L1131.47 1056.6 L1132.04 1052.01 L1132.61 1053.04 L1133.18 1049.49 L1133.75 1049.4 L1134.29 1049.38 L1134.82 1054.57 L1135.36 1052.41 L1135.89 1057.25 L1136.43 1054.43 L1136.96 1058.98 L1137.5 1058.75 L1138.02 1060.73 L1138.53 1057.67 L1139.05 1062.04 L1139.57 1059.83 L1140.08 1064.08 L1140.6 1063.1 L1141.12 1062.06 L1141.65 1057.55 L1142.17 1059.12 L1142.7 1052.15 L1143.22 1054.3 L1143.75 1050 L1144.37 1057.01 L1144.98 1058.21 L1145.6 1063.75 L1146.15 1061.85 L1146.7 1066.21 L1147.25 1063.03 L1147.8 1065.99 L1148.35 1061.98 L1148.9 1066.06 L1149.45 1062.68 L1150 1065 L1150.54 1064.63 L1151.07 1068.42 L1151.61 1065.87 L1152.14 1069.56 L1152.68 1067.11 L1153.21 1071.65 L1153.75 1070 L1154.25 1071.64 L1154.75 1067.3 L1155.25 1070.53 L1155.75 1066.44 L1156.25 1069.74 L1156.75 1065.75 L1157.25 1068.27 L1157.75 1064.15 L1158.25 1066.99 L1158.75 1065 L1159.25 1065.99 L1159.75 1064.16 L1160.25 1067.32 L1160.75 1064.34 L1161.25 1067.78 L1161.75 1064.05 L1162.25 1068.39 L1162.75 1063.68 L1163.25 1068.23 L1163.75 1066.25 L1164.29 1068.18 L1164.84 1066.33 L1165.38 1069.45 L1165.92 1065.99 L1166.47 1071.05 L1167.01 1067.91 L1167.56 1070.6 L1168.1 1070 L1168.6 1072.19 L1169.1 1067.12 L1169.6 1070.54 L1170.1 1066.38 L1170.6 1069.18 L1171.1 1065.98 L1171.6 1069.37 L1172.1 1065.12 L1172.6 1067.7 L1173.1 1066.25 L1173.65 1067.67 L1174.2 1065.12 L1174.75 1069.82 L1175.3 1066.79 L1175.85 1069.01 L1176.4 1067.68 L1176.95 1071.22 L1177.5 1069.4 L1178.05 1070.97 L1178.6 1067.94 L1179.15 1072.21 L1179.7 1067.81 L1180.25 1071.03 L1180.8 1067.79 L1181.35 1070.71 L1181.9 1070 L1182.42 1070.67 L1182.93 1066.7 L1183.45 1069.22 L1183.97 1066.66 L1184.48 1068.6 L1185 1066.25 L1185.63 1068.68 L1186.27 1065.8 L1186.9 1069.4 L1187.8 1096.25 L1188.75 1120 L1189.38 1130.29 L1190 1142.5 L1190.5 1138.26 L1191 1139.99 L1191.5 1134.25 L1192 1136.09 L1192.5 1132.5 L1193.13 1139.29 L1193.77 1140.73 L1194.4 1146.9 L1194.9 1142.33 L1195.4 1141.74 L1195.9 1134.52 L1196.4 1134.79 L1196.9 1130 L1197.42 1133.7 L1197.93 1133.46 L1198.45 1138.45 L1198.97 1138.65 L1199.48 1144.32 L1200 1145 L1200.52 1146.56 L1201.03 1142.72 L1201.55 1145.68 L1202.07 1143.34 L1202.58 1144.79 L1203.1 1143.75 L1203.75 1120 L1204.7 1071.25 L1205.3 1067.02 L1205.9 1060 L1206.43 1064.27 L1206.97 1064.45 L1207.5 1069.4 L1208 1067.51 L1208.5 1070.31 L1209 1065.64 L1209.5 1068.87 L1210 1066.25 L1210.5 1064.87 L1211 1057.52 L1211.5 1057.31 L1212 1050.91 L1212.5 1048.75 L1213.12 1056.93 L1213.75 1066.9 L1214.37 1067.57 L1214.98 1074.39 L1215.6 1075.6 L1216.23 1074.06 L1216.87 1068.13 L1217.5 1068.1 L1218 1065.02 L1218.5 1067.53 L1219 1062.8 L1219.5 1064.15 L1220 1061.9 L1220.5 1063.37 L1221 1058.55 L1221.5 1059.96 L1222 1054.78 L1222.5 1056.25 L1223.12 1061.17 L1223.75 1068.1 L1224.37 1076.84 L1224.98 1090.62 L1225.6 1099.4 L1226.23 1104.58 L1226.87 1104.84 L1227.5 1111.25 L1228.13 1100.55 L1228.77 1093.72 L1229.4 1083.75 L1230 1049.47 L1230.6 1011.9 L1231.15 1020.49 L1231.7 1025.43 L1232.25 1037.66 L1232.8 1043.1 L1233.35 1047.57 L1233.9 1046.31 L1234.45 1051.22 L1235 1051.25 L1235.63 1057.17 L1236.27 1058.78 L1236.9 1065 L1237.4 1061.17 L1237.9 1061.34 L1238.4 1056.48 L1238.9 1056.92 L1239.4 1052.5 L1240.02 1052.81 L1240.63 1048.7 L1241.25 1050.6 L1241.87 1052.87 L1242.48 1059.4 L1243.1 1060 L1243.6 1063.75 L1244.1 1064.31 L1244.6 1070 L1245.1 1068.73 L1245.6 1073.1 L1246.1 1070.3 L1246.6 1073.57 L1247.1 1069.31 L1247.6 1071.55 L1248.1 1070 L1248.6 1070.76 L1249.1 1065.79 L1249.6 1068.78 L1250.1 1064.21 L1250.6 1063.75 L1251.16 1061.22 L1251.72 1062.5 L1252.28 1056.39 L1252.84 1058.78 L1253.4 1055.6 L1253.93 1061.84 L1254.47 1062.13 L1255 1068.1 L1255.53 1068.28 L1256.07 1073.06 L1256.6 1073.1 L1257.2 1064.67 L1257.8 1052.5 L1258.33 1056.47 L1258.87 1057.43 L1259.4 1061.9 L1260.02 1062.89 L1260.63 1069.38 L1261.25 1071.25 L1261.75 1074.14 L1262.25 1072.5 L1262.75 1076.43 L1263.25 1074.29 L1263.75 1077.5 L1264.25 1075.99 L1264.75 1081.26 L1265.25 1077.71 L1265.75 1081.13 L1266.25 1080.6 L1266.79 1081.73 L1267.32 1079.18 L1267.86 1081.02 L1268.39 1077.7 L1268.93 1081.17 L1269.46 1077.79 L1270 1078.75 L1270.54 1078.62 L1271.07 1081.67 L1271.61 1080.58 L1272.14 1084.36 L1272.68 1082.4 L1273.21 1087.01 L1273.75 1085.6 L1274.29 1087.32 L1274.82 1084.03 L1275.36 1086.91 L1275.89 1084.4 L1276.43 1087.29 L1276.96 1082.94 L1277.5 1085 L1278.04 1083.2 L1278.57 1086.39 L1279.11 1082.65 L1279.64 1084.75 L1280.18 1082.02 L1280.71 1084 L1281.25 1082.5 L1281.79 1084.74 L1282.32 1081.27 L1282.86 1085.68 L1283.39 1082.96 L1283.93 1086.46 L1284.46 1082.99 L1285 1085 L1285.5 1084.53 L1286 1088.7 L1286.5 1086.43 L1287 1090.14 L1287.5 1090 L1288.04 1091.14 L1288.57 1087.33 L1289.11 1091.01 L1289.64 1086.13 L1290.18 1089.35 L1290.71 1085.46 L1291.25 1087.5 L1291.75 1084.39 L1292.25 1087.83 L1292.75 1082.31 L1293.25 1085.03 L1293.75 1080.93 L1294.25 1084.67 L1294.75 1080.37 L1295.25 1082.36 L1295.75 1077.12 L1296.25 1078.75 L1296.78 1078.9 L1297.3 1084 L1297.83 1080.7 L1298.35 1086.16 L1298.88 1085 L1299.4 1087.5 L1299.94 1086.8 L1300.49 1090.73 L1301.03 1087.36 L1301.58 1090.73 L1302.12 1088.26 L1302.66 1092.78 L1303.21 1089.54 L1303.75 1091.25 L1304.38 1091.06 L1305 1092.5 L1305.5 1109.37 L1306 1131.25 L1306.9 1000 L1307.43 900.99 L1307.97 799.32 L1308.5 700 L1309.08 624.51 L1309.65 550.25 L1310.22 474.82 L1310.8 400 L1311.3 326.7 L1312 277.5 L1312.65 301.64 L1313.3 326.7 L1314.2 342.5 L1314.75 318.14 L1315.3 293.3 L1315.8 314.38 L1316.3 335 L1316.9 306.33 L1317.5 276.7 L1318.07 254.7 L1318.63 231.77 L1319.2 210 L1320 189.2 L1320.5 194.67 L1321 199.34 L1321.5 205.03 L1322 210 L1322.65 197.84 L1323.3 185 L1324 194.5 L1324.7 203.3 L1325.28 195.69 L1325.85 187.17 L1326.42 179.85 L1327 171.7 L1327.65 184.64 L1328.3 196.7 L1328.9 219.23 L1329.5 240.8 L1330.15 218.31 L1330.8 195 L1331.4 227.94 L1332 260 L1332.57 306.84 L1333.13 353.1 L1333.7 400 L1334.3 499.78 L1334.9 600.2 L1335.5 700 L1336 776 L1336.5 848.55 L1337 926.95 L1337.5 1000 L1338.1 1185 L1338.9 1185 L1339.4 1090 L1340.02 1091.12 L1340.63 1096.83 L1341.25 1098.75 L1341.79 1101.91 L1342.32 1101.08 L1342.86 1106 L1343.39 1103.92 L1343.93 1108.09 L1344.46 1105.89 L1345 1110 L1345.5 1107.36 L1346 1109.46 L1346.5 1104.15 L1347 1105.99 L1347.5 1102.5 L1348.02 1105.14 L1348.53 1103.42 L1349.05 1109.01 L1349.57 1107.76 L1350.08 1112.8 L1350.6 1112.5 L1351.23 1111.03 L1351.87 1104.6 L1352.5 1102.5 L1353.04 1097.57 L1353.57 1096.47 L1354.11 1089.89 L1354.64 1089.15 L1355.18 1081.45 L1355.71 1080.02 L1356.25 1075 L1356.79 1073.34 L1357.32 1067.94 L1357.86 1067.25 L1358.39 1061.09 L1358.93 1061.34 L1359.46 1055.4 L1360 1053.75 L1360.62 1056.82 L1361.25 1062.5 L1361.75 1053.33 L1362.25 1049.7 L1362.75 1038.42 L1363.25 1034.68 L1363.75 1025 L1364.26 1017.08 L1364.78 1004.85 L1365.29 997.35 L1365.8 986.7 L1366.38 997.49 L1366.96 1002.05 L1367.54 1013.68 L1368.12 1018.98 L1368.7 1029.2 L1369.22 1017.08 L1369.75 1011.06 L1370.28 998.36 L1370.8 990 L1371.7 1006.7 L1372.5 983.3 L1373 979.93 L1373.5 980.06 L1374 975.64 L1374.5 976.84 L1375 973.3 L1375.57 968.73 L1376.13 959.67 L1376.7 955 L1377.2 945.93 L1377.7 941.42 L1378.2 931.11 L1378.7 926.4 L1379.2 916.7 L1379.7 910.11 L1380.2 900.28 L1380.7 895.47 L1381.2 885.79 L1381.7 880 L1382.25 873.89 L1382.8 870.03 L1383.35 863.03 L1383.9 860.3 L1384.45 852.18 L1385 848.3 L1385.57 848.02 L1386.13 852.1 L1386.7 851.7 L1387.2 851.55 L1387.7 849.46 L1388.2 850.24 L1388.7 847.7 L1389.2 848.3 L1389.76 846.54 L1390.32 847.91 L1390.88 844.54 L1391.44 846.53 L1392 844.2 L1392.5 849.14 L1393 850.27 L1393.5 856.54 L1394 858.62 L1394.5 864.47 L1395 866.7 L1395.5 875.33 L1396 882.06 L1396.5 892.32 L1397 897.76 L1397.5 906.7 L1398.3 915 L1398.8 924.92 L1399.3 931 L1399.8 941 L1400.3 946.57 L1400.8 956.7 L1401.37 964.26 L1401.93 974.95 L1402.5 981.7 L1403 992.12 L1403.5 996.54 L1404 1007.76 L1404.5 1011.57 L1405 1021.7 L1405.62 1028.94 L1406.25 1040 L1406.87 1044.08 L1407.48 1054.55 L1408.1 1058.75 L1408.73 1067.67 L1409.37 1073.85 L1410 1083.1 L1410.63 1083.23 L1411.27 1089.41 L1411.9 1088.75 L1412.8 1146.9 L1413.4 1141.25 L1414 1139.8 L1414.6 1132.46 L1415.2 1129 L1415.8 1167 L1416.37 1164.79 L1416.93 1156.34 L1417.5 1153.4 L1418.2 1150.27 L1418.9 1150.6 L1419.49 1133.6 L1420.08 1121.63 L1420.66 1103.49 L1421.25 1090.6 L1421.83 1117.91 L1422.4 1149.7 L1423 1136.56 L1423.6 1128.1 L1424.3 1134.31 L1425 1143.1 L1425.58 1142.12 L1426.15 1144.63 L1426.72 1141.36 L1427.3 1144 L1427.93 1123.06 L1428.57 1106.76 L1429.2 1085.9 L1429.83 1106.23 L1430.47 1121.05 L1431.1 1141.7 L1432 1086.9 L1432.7 1100.43 L1433.4 1111.25 L1434.03 1101.39 L1434.67 1086.58 L1435.3 1077.5 L1435.93 1066.56 L1436.57 1061.32 L1437.2 1051.25 L1437.7 1038.53 L1438.2 1021.51 L1438.7 1012.45 L1439.2 996.7 L1439.73 976.2 L1440.27 950.91 L1440.8 930 L1441.37 905.87 L1441.93 886.62 L1442.5 863.3 L1443.3 830 L1443.3 830 L1443.84 794.52 L1444.38 757.66 L1444.92 722.36 L1445.46 685.64 L1446 650 L1446.58 614.72 L1447.15 580.48 L1447.72 544.62 L1448.3 510 L1448.8 488.35 L1449.3 467.7 L1449.8 445.62 L1450.3 425.01 L1450.8 403.3 L1451.37 375.86 L1451.93 347.43 L1452.5 320 L1453 314.81 L1453.5 310.71 L1454 305.18 L1454.5 300.96 L1455 295.41 L1455.5 290.8 L1456 293.48 L1456.5 297.23 L1457 299.86 L1457.5 303.3 L1458.06 311.33 L1458.62 320.38 L1459.18 328.1 L1459.74 336.9 L1460.3 345 L1460.8 341.31 L1461.3 336.89 L1461.8 333.7 L1462.3 329.32 L1462.8 325.8 L1463.3 321.7 L1463.88 317.08 L1464.46 311.53 L1465.04 307.49 L1465.62 301.99 L1466.2 297.5 L1466.72 302.87 L1467.25 309.13 L1467.78 313.94 L1468.3 320 L1468.8 324.42 L1469.3 329.75 L1469.8 334.1 L1470.3 339.2 L1470.85 338.03 L1471.4 337.67 L1471.95 336.22 L1472.5 335.8 L1473.05 334.51 L1473.6 334 L1474.15 332.36 L1474.7 331.7 L1475.2 336.75 L1475.7 342.82 L1476.2 347.45 L1476.7 353.3 L1477.2 359.65 L1477.7 366.93 L1478.2 373.17 L1478.7 380.36 L1479.2 386.7 L1479.75 389.74 L1480.3 391.9 L1480.85 395.27 L1481.4 397.61 L1481.95 400.7 L1482.5 403.3 L1483.07 414.64 L1483.63 425.38 L1484.2 436.7 L1484.73 460.69 L1485.27 485.92 L1485.8 510 L1486.33 538.98 L1486.85 567.1 L1487.38 596.62 L1487.9 624.83 L1488.42 654.16 L1488.95 682.27 L1489.47 711.83 L1490 740 L1490.57 775.98 L1491.13 810.49 L1491.7 846.7 L1492.23 867.57 L1492.77 891.69 L1493.3 911.7 L1493.87 897.2 L1494.43 878.19 L1495 863.3 L1495.55 848.24 L1496.1 835.3 L1496.65 818.94 L1497.2 805.99 L1497.75 790.06 L1498.3 776.7 L1499.2 740 L1499.7 716.54 L1500.2 691.52 L1500.7 668.39 L1501.2 643.63 L1501.7 620.49 L1502.2 595.76 L1502.7 572.26 L1503.2 547.81 L1503.7 524.21 L1504.2 500 L1504.73 451.53 L1505.27 402.02 L1505.8 353.3 L1506.43 329.29 L1507.07 306.39 L1507.7 282.5 L1508.2 296.51 L1508.7 309.18 L1509.2 323.54 L1509.7 336.7 L1510.2 355.67 L1510.7 373.59 L1511.2 392.52 L1511.7 410.8 L1512.2 396.26 L1512.7 380.86 L1513.2 366.72 L1513.7 351.06 L1514.2 336.7 L1514.73 322.39 L1515.27 309.38 L1515.8 295 L1516.35 291.14 L1516.9 286.23 L1517.45 282.58 L1518 278 L1518.5 284.74 L1519 290.21 L1519.5 297.25 L1520 303.3 L1520.57 317.47 L1521.13 330.73 L1521.7 345 L1522.23 358.67 L1522.77 373.26 L1523.3 386.7 L1523.87 403.52 L1524.43 419.66 L1525 436.7 L1525.5 439.04 L1526 442.24 L1526.5 444.33 L1527 447.66 L1527.5 450 L1528.07 467.15 L1528.63 482.87 L1529.2 500 L1529.71 528.39 L1530.22 557.95 L1530.74 585.79 L1531.25 615.21 L1531.76 643.31 L1532.28 672.94 L1532.79 700.74 L1533.3 730 L1533.87 757.01 L1534.43 786.16 L1535 813.3 L1535.5 826.41 L1536 837.19 L1536.5 851.5 L1537 863.3 L1537.55 855.46 L1538.1 843.94 L1538.65 837.12 L1539.2 826.7 L1539.72 820.56 L1540.25 812.29 L1540.78 807.23 L1541.3 799.2 L1541.8 807.85 L1542.3 813.86 L1542.8 823.24 L1543.3 830 L1543.8 847.58 L1544.3 862.09 L1544.8 881.14 L1545.3 895.7 L1545.8 913.3 L1546.4 939.49 L1547 970 L1547 970 L1547.6 1043.3 L1548.12 1051.33 L1548.65 1066.31 L1549.17 1073.29 L1549.7 1085 L1550.6 1102.5 L1551.25 1116.13 L1551.9 1127.5 L1552.42 1131.38 L1552.93 1128.76 L1553.45 1134.77 L1553.97 1133.4 L1554.48 1138.42 L1555 1138.1 L1555.55 1140.62 L1556.1 1138.22 L1556.65 1142.31 L1557.2 1139.65 L1557.75 1144 L1558.3 1140.68 L1558.85 1146.18 L1559.4 1144.4 L1559.94 1145.38 L1560.49 1142.58 L1561.03 1146.9 L1561.58 1142.42 L1562.12 1146.23 L1562.66 1142.07 L1563.21 1145.24 L1563.75 1144.4 L1564.29 1146.62 L1564.84 1142.49 L1565.38 1146.24 L1565.92 1143.05 L1566.47 1146.31 L1567.01 1143.39 L1567.56 1146.14 L1568.1 1144.4 L1568.66 1143.52 L1569.22 1137.66 L1569.78 1140.25 L1570.34 1134.24 L1570.9 1133.75 L1571.4 1134.72 L1571.9 1140 L1572.44 1138.44 L1572.99 1141.58 L1573.53 1138.7 L1574.08 1142.04 L1574.62 1137.45 L1575.16 1141.71 L1575.71 1138.54 L1576.25 1139.4 L1576.75 1136.56 L1577.25 1139.07 L1577.75 1135.9 L1578.25 1138.81 L1578.75 1135.69 L1579.25 1137.56 L1579.75 1133.05 L1580.25 1136.8 L1580.75 1132.96 L1581.25 1133.75 L1581.75 1130.24 L1582.25 1132.68 L1582.75 1127.59 L1583.25 1130.26 L1583.75 1127.5 L1584.29 1128.78 L1584.82 1125.67 L1585.36 1129.48 L1585.89 1127.69 L1586.43 1131.47 L1586.96 1128.65 L1587.5 1130 L1588.02 1127.86 L1588.54 1131.61 L1589.06 1127.05 L1589.58 1129.95 L1590.1 1126.01 L1590.62 1130.08 L1591.15 1125.6 L1591.67 1128.99 L1592.19 1125.33 L1592.71 1127.85 L1593.23 1123.38 L1593.75 1125.6 L1594.25 1123.37 L1594.75 1127.01 L1595.25 1125.41 L1595.75 1128.05 L1596.25 1124.95 L1596.75 1128.64 L1597.25 1126.72 L1597.75 1130.29 L1598.25 1127.35 L1598.75 1128.75 L1599.25 1125.44 L1599.75 1128.86 L1600.25 1124.08 L1600.75 1128.02 L1601.25 1123.84 L1601.75 1126.46 L1602.25 1121.96 L1602.75 1123.93 L1603.25 1121.14 L1603.75 1121.25 L1604.26 1118.74 L1604.78 1122.14 L1605.29 1118.55 L1605.8 1121.73 L1606.32 1117.84 L1606.83 1120.11 L1607.35 1117.13 L1607.86 1119.03 L1608.37 1114.77 L1608.89 1118.39 L1609.4 1116.25 L1609.94 1118.09 L1610.49 1116.6 L1611.03 1120.55 L1611.58 1118.09 L1612.12 1122.55 L1612.66 1120.05 L1613.21 1124.08 L1613.75 1122.5 L1614.25 1124.91 L1614.75 1121.22 L1615.25 1125.42 L1615.75 1123.59 L1616.25 1126.09 L1616.75 1123.58 L1617.25 1126.83 L1617.75 1125.52 L1618.25 1129.2 L1618.75 1127.5 L1619.29 1130.51 L1619.82 1126.42 L1620.36 1131.69 L1620.89 1128.22 L1621.43 1133.02 L1621.96 1129.22 L1622.5 1131.9 L1623.01 1129.71 L1623.52 1132.65 L1624.03 1129.88 L1624.54 1131.24 L1625.05 1128.67 L1625.55 1131.12 L1626.06 1128.1 L1626.57 1131.25 L1627.08 1126.47 L1627.59 1130.03 L1628.1 1127.5 L1628.62 1130.42 L1629.15 1127.34 L1629.67 1131.44 L1630.2 1127.04 L1630.72 1131.35 L1631.25 1130.6 L1631.78 1130.26 L1632.3 1125.66 L1632.83 1128.95 L1633.35 1122.97 L1633.88 1125.37 L1634.4 1122.5 L1634.93 1123.13 L1635.46 1119.01 L1635.99 1119.96 L1636.51 1115.96 L1637.04 1118.39 L1637.57 1114.06 L1638.1 1113.75 L1638.62 1111.81 L1639.15 1115.63 L1639.67 1112.78 L1640.2 1117.06 L1640.72 1114.1 L1641.25 1116.9 L1641.76 1114.91 L1642.28 1119.98 L1642.79 1116.11 L1643.3 1120.08 L1643.82 1117 L1644.33 1120.89 L1644.85 1117.89 L1645.36 1121.54 L1645.87 1117.58 L1646.39 1120.61 L1646.9 1120 L1647.44 1120.93 L1647.99 1115.52 L1648.53 1116.22 L1649.08 1112.5 L1649.62 1113.02 L1650.16 1109.33 L1650.71 1111.13 L1651.25 1107.5 L1651.87 1113.21 L1652.48 1111.84 L1653.1 1116.9 L1653.62 1113.21 L1654.15 1116.46 L1654.67 1110.74 L1655.2 1112.95 L1655.72 1108.87 L1656.25 1108.75 L1656.75 1108.94 L1657.25 1113.03 L1657.75 1111.35 L1658.25 1115.88 L1658.75 1115 L1659.28 1114.6 L1659.8 1109.63 L1660.33 1111.47 L1660.85 1106.01 L1661.38 1107.23 L1661.9 1104.4 L1662.42 1106.37 L1662.93 1103.82 L1663.45 1107.74 L1663.97 1105.3 L1664.48 1110.56 L1665 1108.75 L1665.53 1116.29 L1666.07 1118.32 L1666.6 1126.9 L1667.13 1116.67 L1667.67 1112.73 L1668.2 1101.9 L1668.73 1106.27 L1669.27 1105.02 L1669.8 1109.8 L1670.3 1099.32 L1670.8 1094.02 L1671.3 1082.7 L1671.8 1077.8 L1672.3 1067.5 L1672.84 1072.92 L1673.38 1073.12 L1673.91 1081.33 L1674.45 1080.47 L1674.99 1088.76 L1675.52 1089.26 L1676.06 1096.16 L1676.6 1097.9 L1677.16 1099.02 L1677.72 1093.81 L1678.28 1096.28 L1678.84 1093.61 L1679.4 1093.9 L1679.93 1091.21 L1680.47 1095.09 L1681 1091.44 L1681.53 1095.22 L1682.07 1091.73 L1682.6 1093.1 L1683.1 1090.52 L1683.6 1092.9 L1684.1 1087.53 L1684.6 1090.85 L1685.1 1085.88 L1685.6 1088.43 L1686.1 1084.02 L1686.6 1085.1 L1687.1 1083.42 L1687.6 1087.63 L1688.1 1083.32 L1688.6 1086.83 L1689.1 1083.56 L1689.6 1088.19 L1690.1 1085.25 L1690.6 1086.7 L1691.1 1083.87 L1691.6 1085.26 L1692.1 1081.9 L1692.6 1081.9 L1693.1 1081.6 L1693.6 1087.97 L1694.1 1085.54 L1694.6 1089.9 L1695.17 1103.57 L1695.75 1119.4 L1696.38 1103.67 L1697 1089.9 L1697.56 1085.34 L1698.11 1085.41 L1698.67 1078.57 L1699.23 1078.88 L1699.79 1072.35 L1700.34 1073.23 L1700.9 1068.3 L1701.43 1071.87 L1701.97 1070.62 L1702.5 1076.01 L1703.03 1075.51 L1703.57 1080.76 L1704.1 1081.9 L1704.6 1084.26 L1705.1 1083.25 L1705.6 1088.13 L1706.1 1086.01 L1706.6 1090.86 L1707.1 1088.43 L1707.6 1094.61 L1708.1 1093.9 L1708.63 1095.76 L1709.17 1094.71 L1709.7 1098.83 L1710.23 1095.57 L1710.77 1098.87 L1711.3 1097.6 L1711.83 1101.55 L1712.37 1099.2 L1712.9 1101.1 L1713.43 1099.02 L1713.97 1101.87 L1714.5 1097.81 L1715.03 1100.58 L1715.57 1095.48 L1716.1 1099.59 L1716.63 1094.82 L1717.17 1098.04 L1717.7 1095.5 L1718.2 1094.64 L1718.7 1089.15 L1719.2 1090.86 L1719.7 1084.85 L1720.2 1086.17 L1720.7 1080.15 L1721.2 1081.25 L1721.7 1077.9 L1722.3 1082.18 L1722.9 1079.74 L1723.5 1085.35 L1724.1 1086.7 L1724.66 1084.1 L1725.22 1076.45 L1725.78 1076.11 L1726.34 1069.07 L1726.9 1067.5 L1727.45 1068.66 L1728 1074.41 L1728.55 1074.57 L1729.1 1080.29 L1729.65 1080.17 L1730.2 1086.83 L1730.75 1086.04 L1731.3 1091.5 L1731.8 1088.69 L1732.3 1091.73 L1732.8 1088.79 L1733.3 1090.96 L1733.8 1087.34 L1734.3 1090.05 L1734.8 1087.79 L1735.3 1088.3 L1735.8 1086.51 L1736.3 1089.04 L1736.8 1084.67 L1737.3 1086.47 L1737.8 1082.71 L1738.3 1085.28 L1738.8 1081.17 L1739.3 1081.9 L1739.9 1077 L1740.5 1078.5 L1741.1 1073.05 L1741.7 1072.3 L1742.23 1068.22 L1742.77 1070.06 L1743.3 1066 L1743.83 1067.67 L1744.37 1062.28 L1744.9 1061.9 L1745.43 1063.63 L1745.97 1072.44 L1746.5 1072.84 L1747.03 1079.82 L1747.57 1081.6 L1748.1 1086.7 L1748.63 1085.93 L1749.17 1091.49 L1749.7 1091.5 L1750.3 1088.1 L1750.9 1080.8 L1751.5 1078.29 L1752.1 1072.3 L1752.9 1048.3 L1753.43 1045.4 L1753.97 1048.25 L1754.5 1044.91 L1755.03 1048.08 L1755.57 1043.91 L1756.1 1046.79 L1756.63 1043.06 L1757.17 1045.16 L1757.7 1043.5 L1758.2 1044.77 L1758.7 1039.07 L1759.2 1042.28 L1759.7 1038.23 L1760.2 1040.89 L1760.7 1036.3 L1761.2 1037.53 L1761.7 1033.51 L1762.2 1036.71 L1762.7 1031.59 L1763.2 1032.4 L1763.8 1034.4 L1764.4 1040.91 L1765 1040.26 L1765.6 1044.3 L1766.2 1038.92 L1766.8 1038.93 L1767.4 1030.15 L1768 1028.4 L1768.55 1027.74 L1769.1 1032.32 L1769.65 1030.57 L1770.2 1035.91 L1770.75 1035.1 L1771.3 1039.62 L1771.85 1036.43 L1772.4 1040.4 L1772.96 1036.81 L1773.52 1036.57 L1774.08 1029.82 L1774.64 1030.91 L1775.2 1026.8 L1775.73 1029.73 L1776.27 1027.8 L1776.8 1033.18 L1777.33 1030.6 L1777.87 1037.14 L1778.4 1036.4 L1778.93 1040.69 L1779.47 1038.22 L1780 1043.37 L1780.53 1042.15 L1781.07 1047.96 L1781.6 1046.41 L1782.13 1051.82 L1782.67 1050.62 L1783.2 1053.9 L1783.7 1051.96 L1784.2 1054.74 L1784.7 1050.05 L1785.2 1051.67 L1785.7 1047.34 L1786.2 1050.81 L1786.7 1046.29 L1787.2 1047.5 L1787.8 1045.7 L1788.4 1047.75 L1789 1044.91 L1789.6 1045.9 L1790.1 1047.8 L1790.6 1055.58 L1791.1 1056.06 L1791.6 1062.7 L1792.2 1051.77 L1792.8 1043.5 L1793.35 1032.71 L1793.9 1027.86 L1794.45 1016.79 L1795 1010 L1795.5 1005.07 L1796 1003.21 L1796.5 996.52 L1797 995.74 L1797.5 990.4 L1798.02 988.13 L1798.54 981.36 L1799.06 979.79 L1799.58 973.29 L1800.1 970.6 L1800.62 973.82 L1801.15 982.43 L1801.67 985.54 L1802.2 992.5 L1802.72 985.56 L1803.23 984.87 L1803.75 977.28 L1804.27 976.18 L1804.78 968.19 L1805.3 964.4 L1805.82 965.9 L1806.33 970.01 L1806.85 970.24 L1807.37 976.31 L1807.88 975.35 L1808.4 979 L1808.92 974.64 L1809.44 974.79 L1809.96 968.73 L1810.48 967.18 L1811 963.3 L1811.65 949.36 L1812.3 932 L1812.6 946.7 L1813.13 928.9 L1813.67 913.96 L1814.2 895.6 L1814.7 891.14 L1815.2 883.9 L1815.7 880 L1816.2 868.9 L1816.78 856.42 L1817.35 840.18 L1817.92 827.88 L1818.5 813.3 L1819.2 776.7 L1820 760 L1820.57 756.76 L1821.13 751.52 L1821.7 748.3 L1822.2 726.7 L1823 660 L1823.6 643.18 L1824.2 626.7 L1824.7 623.13 L1825.2 620.3 L1825.7 616.35 L1826.2 613.59 L1826.7 610 L1827.23 604.81 L1827.77 598.63 L1828.3 593.3 L1829 576.18 L1829.7 560 L1830.3 525.58 L1830.9 491.7 L1831.6 456.07 L1832.3 420.9 L1832.9 403 L1833.5 385.64 L1834.1 367.5 L1834.7 350 L1834.8 282.1 L1835.4 270.76 L1836 258.2 L1836.6 246.7 L1837.14 237.89 L1837.68 230.19 L1838.22 220.71 L1838.76 213.12 L1839.3 204.2 L1839.85 200 L1840.4 195.07 L1840.95 191.23 L1841.5 186.23 L1842.05 182.32 L1842.6 177.39 L1843.15 173.42 L1843.7 168.75 L1844.2 165.63 L1844.7 161.32 L1845.2 158.45 L1845.7 154.29 L1846.2 151.44 L1846.7 147.15 L1847.2 144 L1847.74 142.6 L1848.28 141.97 L1848.82 139.97 L1849.36 139.31 L1849.9 137.8 L1850.42 137.81 L1850.94 136.44 L1851.46 136.66 L1851.98 135.76 L1852.5 135.75 L1853.02 134.67 L1853.54 134.79 L1854.06 133.85 L1854.59 133.92 L1855.11 132.85 L1855.63 133.04 L1856.15 131.82 L1856.67 131.93 L1857.19 130.77 L1857.71 131.05 L1858.23 130.09 L1858.75 129.8 L1859.25 128.98 L1859.76 128.83 L1860.26 127.79 L1860.76 127.98 L1861.27 126.46 L1861.77 126.75 L1862.28 125.6 L1862.78 125.46 L1863.28 124.44 L1863.79 124.37 L1864.29 123.14 L1864.79 123.1 L1865.3 122.05 L1865.8 121.8 L1866.33 120.88 L1866.86 120.94 L1867.39 119.5 L1867.92 119.61 L1868.45 118.34 L1868.98 118.33 L1869.51 117.15 L1870.04 117.21 L1870.57 116.05 L1871.1 115.6 L1871.6 114.88 L1872.1 115.15 L1872.6 114.22 L1873.1 114.28 L1873.6 113.22 L1874.1 113.54 L1874.6 112.66 L1875.1 112.74 L1875.6 112.1"/>
</g>
</svg>
<!-- legend -->
<rect x="300.2" y="1019" width="320.8" height="137.6" rx="8.3" ry="8.3" fill="#fff" fill-opacity="0.8" stroke="#d6d6d6" stroke-width="4"/>
<line x1="315.6" y1="1054" x2="401" y2="1054" stroke="#ff0000" stroke-width="2.08"/>
<line x1="315.6" y1="1116.8" x2="401" y2="1116.8" stroke="#000" stroke-width="2.08"/>
<text x="433.7" y="1068.9" font-size="44" textLength="98" lengthAdjust="spacingAndGlyphs">Peak</text>
<text x="434.6" y="1131" font-size="44" textLength="170.2" lengthAdjust="spacingAndGlyphs">Average</text>
<!-- spines -->
<rect x="280.5" y="112.5" width="1595" height="1066" fill="none" stroke="#000" stroke-width="3" stroke-linejoin="miter"/>
<!-- y ticks -->
<g stroke="#000">
<line x1="266" y1="1011.5" x2="280.5" y2="1011.5" stroke-width="3"/>
<line x1="272.2" y1="282.5" x2="280.5" y2="282.5" stroke-width="2.5"/>
<line x1="272.2" y1="1121.5" x2="280.5" y2="1121.5" stroke-width="2.5"/>
</g>
<g stroke="#000" stroke-width="3"><line x1="482.5" y1="1178.5" x2="482.5" y2="1193.1"/><line x1="715.5" y1="1178.5" x2="715.5" y2="1193.1"/><line x1="948.5" y1="1178.5" x2="948.5" y2="1193.1"/><line x1="1182.5" y1="1178.5" x2="1182.5" y2="1193.1"/><line x1="1415.5" y1="1178.5" x2="1415.5" y2="1193.1"/><line x1="1648.5" y1="1178.5" x2="1648.5" y2="1193.1"/></g>
<!-- y labels -->
<text x="110" y="298.1" font-size="44">2</text>
<g stroke="#000" stroke-width="3.2"><line x1="150.5" y1="274.5" x2="170.5" y2="294.5"/><line x1="170.5" y1="274.5" x2="150.5" y2="294.5"/></g>
<text x="187" y="298.1" font-size="44" textLength="51.3" lengthAdjust="spacingAndGlyphs">10</text>
<text x="239.8" y="281.9" font-size="30.5" textLength="16.6" lengthAdjust="spacingAndGlyphs">8</text>
<text x="180" y="1027.2" font-size="44" textLength="50.9" lengthAdjust="spacingAndGlyphs">10</text>
<text x="232.8" y="1010.8" font-size="30.5" textLength="16.6" lengthAdjust="spacingAndGlyphs">8</text>
<!-- x labels -->
<g font-size="44"><text x="479.5" y="1283.8" transform="rotate(-30 479.5 1268.8)" text-anchor="middle" textLength="186" lengthAdjust="spacingAndGlyphs">01-20 00</text><text x="712.5" y="1283.8" transform="rotate(-30 712.5 1268.8)" text-anchor="middle" textLength="186" lengthAdjust="spacingAndGlyphs">01-20 02</text><text x="945.5" y="1283.8" transform="rotate(-30 945.5 1268.8)" text-anchor="middle" textLength="186" lengthAdjust="spacingAndGlyphs">01-20 04</text><text x="1179.5" y="1283.8" transform="rotate(-30 1179.5 1268.8)" text-anchor="middle" textLength="186" lengthAdjust="spacingAndGlyphs">01-20 06</text><text x="1412.5" y="1283.8" transform="rotate(-30 1412.5 1268.8)" text-anchor="middle" textLength="186" lengthAdjust="spacingAndGlyphs">01-20 08</text><text x="1645.5" y="1283.8" transform="rotate(-30 1645.5 1268.8)" text-anchor="middle" textLength="186" lengthAdjust="spacingAndGlyphs">01-20 10</text></g>
<text x="1076.7" y="1386.7" font-size="44" text-anchor="middle" textLength="103.9" lengthAdjust="spacingAndGlyphs">Time</text>
<text transform="translate(82.2 645.95) rotate(-90)" x="0" y="0" font-size="44" text-anchor="middle" textLength="89.9" lengthAdjust="spacingAndGlyphs">ADU</text>
<text x="1076.85" y="87" font-size="50.5" text-anchor="middle" textLength="1402" lengthAdjust="spacingAndGlyphs">Peak field sums for CA000U_20260119_221530_901637</text>
</svg>
</body></html>
